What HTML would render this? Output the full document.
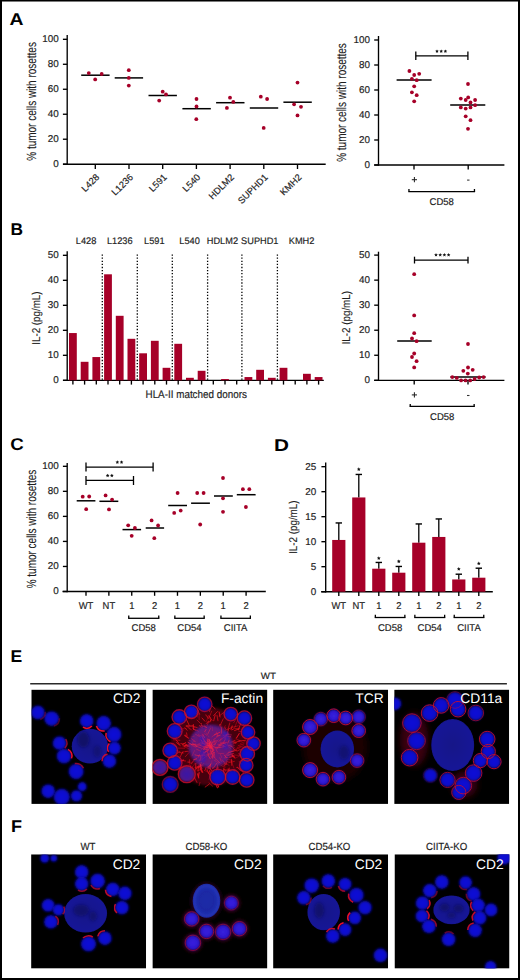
<!DOCTYPE html>
<html><head><meta charset="utf-8"><style>
html,body{margin:0;padding:0;background:#fff;}
body{width:520px;height:980px;overflow:hidden;position:relative;}
#fr{position:absolute;left:0;top:0;width:520px;height:980px;box-sizing:border-box;border:2px solid #000;border-top-width:1px;}
#fr2{position:absolute;left:2px;top:1px;width:516px;height:1px;background:#7a7a7a;}
svg{position:absolute;left:0;top:0;}
text{font-family:"Liberation Sans", sans-serif;text-rendering:geometricPrecision;}
</style></head><body>
<svg width="520" height="980" viewBox="0 0 520 980">
<defs>
<filter id="b06" x="-20%" y="-20%" width="140%" height="140%"><feGaussianBlur stdDeviation="0.6"/></filter>
<filter id="b04" x="-20%" y="-20%" width="140%" height="140%"><feGaussianBlur stdDeviation="0.4"/></filter>
<filter id="b08" x="-20%" y="-20%" width="140%" height="140%"><feGaussianBlur stdDeviation="0.8"/></filter>
<filter id="b15" x="-30%" y="-30%" width="160%" height="160%"><feGaussianBlur stdDeviation="1.5"/></filter>
<filter id="b3" x="-50%" y="-50%" width="200%" height="200%"><feGaussianBlur stdDeviation="3"/></filter>
<radialGradient id="gc" cx="50%" cy="50%" r="55%"><stop offset="0" stop-color="#0c0cd8"/><stop offset="0.6" stop-color="#0a0acc"/><stop offset="0.9" stop-color="#0808b0"/><stop offset="1" stop-color="#060690"/></radialGradient>
<radialGradient id="gc2" cx="50%" cy="50%" r="55%"><stop offset="0" stop-color="#3a22e0"/><stop offset="0.75" stop-color="#2a14cc"/><stop offset="1" stop-color="#200aa8"/></radialGradient>
<radialGradient id="gb" cx="50%" cy="50%" r="55%"><stop offset="0" stop-color="#141488"/><stop offset="0.85" stop-color="#171796"/><stop offset="1" stop-color="#0e0e6a"/></radialGradient>
<radialGradient id="gb2" cx="50%" cy="50%" r="55%"><stop offset="0" stop-color="#1e2ca8"/><stop offset="0.5" stop-color="#1a28a4"/><stop offset="0.8" stop-color="#2232b4"/><stop offset="1" stop-color="#1a2696"/></radialGradient>
<radialGradient id="gc3" cx="50%" cy="50%" r="55%"><stop offset="0" stop-color="#3a1aa8"/><stop offset="0.7" stop-color="#4a1890"/><stop offset="1" stop-color="#801040"/></radialGradient>
<radialGradient id="gfa" cx="50%" cy="50%" r="50%"><stop offset="0" stop-color="#5a34d8"/><stop offset="0.6" stop-color="#6a2ab8"/><stop offset="0.9" stop-color="#8a1a70"/><stop offset="1" stop-color="#8a1a70" stop-opacity="0"/></radialGradient>
</defs>
<clipPath id="clipE0"><rect x="31.3" y="689.6" width="115" height="114.3"/></clipPath>
<g clip-path="url(#clipE0)">
<rect x="31.3" y="689.6" width="115" height="114.3" fill="#000"/>
<g transform="translate(31.3 689.6)">
<ellipse cx="58.6" cy="56.6" rx="18.2" ry="17.4" fill="url(#gb)" filter="url(#b06)"/>
<ellipse cx="52" cy="50" rx="6" ry="8" fill="#08084a" opacity="0.55" filter="url(#b15)"/>
<ellipse cx="66" cy="62" rx="4" ry="6" fill="#08084a" opacity="0.35" filter="url(#b15)"/>
<circle cx="55.4" cy="31.3" r="6.94" fill="url(#gc)" filter="url(#b08)"/>
<circle cx="72.4" cy="33.6" r="7.45" fill="url(#gc)" filter="url(#b08)"/>
<circle cx="82.7" cy="44.9" r="7.65" fill="url(#gc)" filter="url(#b08)"/>
<circle cx="83.1" cy="58.5" r="6.53" fill="url(#gc)" filter="url(#b08)"/>
<circle cx="78.1" cy="71.5" r="6.94" fill="url(#gc)" filter="url(#b08)"/>
<circle cx="28.2" cy="53.5" r="6.94" fill="url(#gc)" filter="url(#b08)"/>
<circle cx="32.7" cy="66.5" r="7.45" fill="url(#gc)" filter="url(#b08)"/>
<circle cx="44.8" cy="81.9" r="7.65" fill="url(#gc)" filter="url(#b08)"/>
<circle cx="6.6" cy="22.9" r="6.94" fill="url(#gc)" filter="url(#b08)"/>
<circle cx="20.3" cy="29" r="7.45" fill="url(#gc)" filter="url(#b08)"/>
<circle cx="16.9" cy="101.6" r="6.94" fill="url(#gc)" filter="url(#b08)"/>
<circle cx="30.5" cy="107.3" r="8.16" fill="url(#gc)" filter="url(#b08)"/>
<circle cx="50.9" cy="97.1" r="4.59" fill="url(#gc)" filter="url(#b08)"/>
<circle cx="45.2" cy="106.2" r="5.81" fill="url(#gc)" filter="url(#b08)"/>
<path d="M60.61 36.47 A7.34 7.34 0 0 1 51.64 37.6" fill="none" stroke="#f01028" stroke-width="1.5" opacity="1" filter="url(#b04)"/>
<path d="M73.36 41.39 A7.85 7.85 0 0 1 65.08 36.42" fill="none" stroke="#f01028" stroke-width="1.5" opacity="1" filter="url(#b04)"/>
<path d="M79.16 52.13 A8.05 8.05 0 0 1 74.83 43.21" fill="none" stroke="#f01028" stroke-width="1.5" opacity="1" filter="url(#b04)"/>
<path d="M77.33 62.33 A6.93 6.93 0 0 1 77.99 53.83" fill="none" stroke="#f01028" stroke-width="1.5" opacity="1" filter="url(#b04)"/>
<path d="M70.76 71.58 A7.34 7.34 0 0 1 76.25 64.4" fill="none" stroke="#f01028" stroke-width="1.5" opacity="0.8" filter="url(#b04)"/>
<path d="M34.41 49.59 A7.34 7.34 0 0 1 33.49 58.58" fill="none" stroke="#f01028" stroke-width="1.5" opacity="0.6" filter="url(#b04)"/>
<path d="M36.75 59.78 A7.85 7.85 0 0 1 40.2 68.8" fill="none" stroke="#f01028" stroke-width="1.5" opacity="1" filter="url(#b04)"/>
<path d="M43.49 73.96 A8.05 8.05 0 0 1 52.19 78.7" fill="none" stroke="#f01028" stroke-width="1.5" opacity="0.6" filter="url(#b04)"/>
<path d="M13.91 22.25 A7.34 7.34 0 0 1 8.99 29.83" fill="none" stroke="#f01028" stroke-width="1.5" opacity="0.3" filter="url(#b04)"/>
<path d="M28.14 28.7 A7.85 7.85 0 0 1 22.49 36.53" fill="none" stroke="#f01028" stroke-width="1.5" opacity="0.3" filter="url(#b04)"/>
</g>
<text x="140.5" y="702.8" font-size="13.8" text-anchor="end" fill="#fff">CD2</text>
</g>
<clipPath id="clipE1"><rect x="152.4" y="689.6" width="115" height="114.3"/></clipPath>
<g clip-path="url(#clipE1)">
<rect x="152.4" y="689.6" width="115" height="114.3" fill="#000"/>
<g transform="translate(152.4 689.6)">
<ellipse cx="58" cy="57" rx="40" ry="39" fill="#46000a" filter="url(#b15)"/>
<g filter="url(#b04)"><line x1="49.41" y1="75.02" x2="47.51" y2="77.11" stroke="#e8101e" stroke-width="0.92" opacity="0.66" stroke-linecap="round"/><line x1="83.26" y1="68.4" x2="87.23" y2="66.39" stroke="#e8101e" stroke-width="0.64" opacity="0.54" stroke-linecap="round"/><line x1="26.52" y1="71.93" x2="25.09" y2="75.13" stroke="#e8101e" stroke-width="0.98" opacity="0.93" stroke-linecap="round"/><line x1="34.66" y1="45.87" x2="34.04" y2="43.23" stroke="#e8101e" stroke-width="1.12" opacity="0.63" stroke-linecap="round"/><line x1="68.08" y1="71.57" x2="73.31" y2="74.85" stroke="#e8101e" stroke-width="0.71" opacity="0.76" stroke-linecap="round"/><line x1="41.97" y1="38.07" x2="40.37" y2="35.79" stroke="#e8101e" stroke-width="0.64" opacity="0.59" stroke-linecap="round"/><line x1="48.18" y1="34.01" x2="44.6" y2="30.33" stroke="#e8101e" stroke-width="0.87" opacity="0.63" stroke-linecap="round"/><line x1="67.65" y1="27.41" x2="66.73" y2="22.41" stroke="#e8101e" stroke-width="0.92" opacity="0.89" stroke-linecap="round"/><line x1="53.85" y1="33.99" x2="55.88" y2="31.74" stroke="#e8101e" stroke-width="0.85" opacity="0.84" stroke-linecap="round"/><line x1="71.88" y1="80.13" x2="77.34" y2="80.82" stroke="#e8101e" stroke-width="1.06" opacity="0.76" stroke-linecap="round"/><line x1="73.31" y1="40.52" x2="78.01" y2="38.36" stroke="#e8101e" stroke-width="0.95" opacity="0.71" stroke-linecap="round"/><line x1="77.41" y1="26.63" x2="80.13" y2="21.87" stroke="#e8101e" stroke-width="0.64" opacity="0.82" stroke-linecap="round"/><line x1="34.13" y1="27.08" x2="33.87" y2="23.3" stroke="#e8101e" stroke-width="0.83" opacity="0.8" stroke-linecap="round"/><line x1="84.52" y1="61.64" x2="87.23" y2="60.31" stroke="#e8101e" stroke-width="0.64" opacity="0.85" stroke-linecap="round"/><line x1="71.5" y1="72.17" x2="76.74" y2="75.88" stroke="#e8101e" stroke-width="0.65" opacity="0.7" stroke-linecap="round"/><line x1="24.38" y1="48.03" x2="20.34" y2="43.08" stroke="#e8101e" stroke-width="0.77" opacity="0.69" stroke-linecap="round"/><line x1="35.94" y1="85.94" x2="32.76" y2="86.14" stroke="#e8101e" stroke-width="0.71" opacity="0.6" stroke-linecap="round"/><line x1="61.1" y1="83.67" x2="60.89" y2="87.35" stroke="#e8101e" stroke-width="0.6" opacity="0.69" stroke-linecap="round"/><line x1="40.06" y1="79.28" x2="34.45" y2="79.32" stroke="#e8101e" stroke-width="0.91" opacity="0.78" stroke-linecap="round"/><line x1="48.66" y1="42.75" x2="50.18" y2="36.93" stroke="#e8101e" stroke-width="1.12" opacity="0.86" stroke-linecap="round"/><line x1="37.6" y1="71.12" x2="36.63" y2="76.39" stroke="#e8101e" stroke-width="0.64" opacity="0.53" stroke-linecap="round"/><line x1="62.81" y1="76.68" x2="64.24" y2="79.02" stroke="#e8101e" stroke-width="0.6" opacity="0.57" stroke-linecap="round"/><line x1="75.75" y1="73.17" x2="82.03" y2="71.78" stroke="#e8101e" stroke-width="0.97" opacity="0.57" stroke-linecap="round"/><line x1="57.29" y1="81.15" x2="57.98" y2="84.13" stroke="#e8101e" stroke-width="1.11" opacity="0.95" stroke-linecap="round"/><line x1="30.86" y1="61.86" x2="29.16" y2="64.29" stroke="#e8101e" stroke-width="0.81" opacity="0.62" stroke-linecap="round"/><line x1="69.45" y1="41.21" x2="67.04" y2="34.87" stroke="#e8101e" stroke-width="0.92" opacity="0.57" stroke-linecap="round"/><line x1="43.36" y1="53.11" x2="36.81" y2="50.93" stroke="#e8101e" stroke-width="1.12" opacity="0.81" stroke-linecap="round"/><line x1="54.67" y1="80.43" x2="57.69" y2="85.58" stroke="#e8101e" stroke-width="0.92" opacity="0.85" stroke-linecap="round"/><line x1="50.03" y1="75.41" x2="43.98" y2="78.79" stroke="#e8101e" stroke-width="1.11" opacity="0.86" stroke-linecap="round"/><line x1="72.42" y1="28.24" x2="72.12" y2="23.42" stroke="#e8101e" stroke-width="0.81" opacity="0.51" stroke-linecap="round"/><line x1="79.06" y1="61.93" x2="84.49" y2="60.5" stroke="#e8101e" stroke-width="1.17" opacity="0.7" stroke-linecap="round"/><line x1="92.78" y1="40.83" x2="96.55" y2="42.53" stroke="#e8101e" stroke-width="0.73" opacity="0.6" stroke-linecap="round"/><line x1="65.03" y1="74.99" x2="65.76" y2="81.5" stroke="#e8101e" stroke-width="1.1" opacity="0.72" stroke-linecap="round"/><line x1="40.3" y1="28.4" x2="34.95" y2="27.24" stroke="#e8101e" stroke-width="1.15" opacity="0.85" stroke-linecap="round"/><line x1="59.68" y1="31.02" x2="56.37" y2="25.95" stroke="#e8101e" stroke-width="0.8" opacity="0.86" stroke-linecap="round"/><line x1="81.12" y1="53.45" x2="87.45" y2="51.09" stroke="#e8101e" stroke-width="1.03" opacity="0.58" stroke-linecap="round"/><line x1="72.75" y1="69.21" x2="73.02" y2="75.33" stroke="#e8101e" stroke-width="0.69" opacity="0.87" stroke-linecap="round"/><line x1="87.92" y1="53.95" x2="92.51" y2="52.04" stroke="#e8101e" stroke-width="0.68" opacity="0.51" stroke-linecap="round"/><line x1="86.43" y1="51.58" x2="93.07" y2="50.68" stroke="#e8101e" stroke-width="0.86" opacity="0.89" stroke-linecap="round"/><line x1="68.37" y1="38.81" x2="68.49" y2="34.99" stroke="#e8101e" stroke-width="0.74" opacity="0.76" stroke-linecap="round"/><line x1="54.52" y1="81.46" x2="58.28" y2="86.88" stroke="#e8101e" stroke-width="0.81" opacity="0.71" stroke-linecap="round"/><line x1="28.26" y1="39.28" x2="22.11" y2="36.82" stroke="#e8101e" stroke-width="0.9" opacity="0.74" stroke-linecap="round"/><line x1="41.45" y1="54.36" x2="38.13" y2="54.22" stroke="#e8101e" stroke-width="0.6" opacity="0.86" stroke-linecap="round"/><line x1="71.11" y1="79.61" x2="71.53" y2="84.59" stroke="#e8101e" stroke-width="0.8" opacity="0.73" stroke-linecap="round"/><line x1="27.21" y1="44.08" x2="22.51" y2="45.85" stroke="#e8101e" stroke-width="0.75" opacity="0.62" stroke-linecap="round"/><line x1="61.33" y1="30.98" x2="62.8" y2="25.25" stroke="#e8101e" stroke-width="1.15" opacity="0.7" stroke-linecap="round"/><line x1="37.95" y1="39.95" x2="33.76" y2="36.21" stroke="#e8101e" stroke-width="0.87" opacity="0.74" stroke-linecap="round"/><line x1="22.8" y1="63.03" x2="16.51" y2="61.62" stroke="#e8101e" stroke-width="1.17" opacity="0.62" stroke-linecap="round"/><line x1="22.79" y1="44.14" x2="21.07" y2="41.55" stroke="#e8101e" stroke-width="0.67" opacity="0.7" stroke-linecap="round"/><line x1="76.29" y1="68.1" x2="81.54" y2="66.41" stroke="#e8101e" stroke-width="1.07" opacity="0.9" stroke-linecap="round"/><line x1="76.59" y1="83.36" x2="77.55" y2="86.35" stroke="#e8101e" stroke-width="1.13" opacity="0.94" stroke-linecap="round"/><line x1="64.54" y1="93.06" x2="66.26" y2="97.43" stroke="#e8101e" stroke-width="1.19" opacity="0.87" stroke-linecap="round"/><line x1="71.5" y1="78.61" x2="73.53" y2="82.09" stroke="#e8101e" stroke-width="0.72" opacity="0.64" stroke-linecap="round"/><line x1="54.97" y1="41.09" x2="54.62" y2="36.62" stroke="#e8101e" stroke-width="0.61" opacity="0.65" stroke-linecap="round"/><line x1="40.63" y1="36.42" x2="33.7" y2="36.46" stroke="#e8101e" stroke-width="1.07" opacity="0.94" stroke-linecap="round"/><line x1="73.9" y1="72.1" x2="79.82" y2="71.08" stroke="#e8101e" stroke-width="0.76" opacity="0.56" stroke-linecap="round"/><line x1="26.22" y1="75.01" x2="22.57" y2="74.7" stroke="#e8101e" stroke-width="0.69" opacity="0.91" stroke-linecap="round"/><line x1="29.14" y1="42.26" x2="26.5" y2="43.06" stroke="#e8101e" stroke-width="1.01" opacity="0.69" stroke-linecap="round"/><line x1="90.37" y1="72.02" x2="95.05" y2="75.94" stroke="#e8101e" stroke-width="0.65" opacity="0.89" stroke-linecap="round"/><line x1="89.89" y1="71.37" x2="93.69" y2="72.69" stroke="#e8101e" stroke-width="0.93" opacity="0.92" stroke-linecap="round"/><line x1="55.95" y1="75.95" x2="55.38" y2="79.48" stroke="#e8101e" stroke-width="0.67" opacity="0.57" stroke-linecap="round"/><line x1="77.39" y1="64.03" x2="81.26" y2="63.94" stroke="#e8101e" stroke-width="1.06" opacity="0.63" stroke-linecap="round"/><line x1="37.33" y1="56.64" x2="34.84" y2="57.34" stroke="#e8101e" stroke-width="0.75" opacity="0.51" stroke-linecap="round"/><line x1="56.23" y1="28.87" x2="53.37" y2="25.22" stroke="#e8101e" stroke-width="1.16" opacity="0.55" stroke-linecap="round"/><line x1="68.26" y1="34.88" x2="70.83" y2="29.18" stroke="#e8101e" stroke-width="0.84" opacity="0.73" stroke-linecap="round"/><line x1="44.85" y1="22.82" x2="40.95" y2="17.94" stroke="#e8101e" stroke-width="1.02" opacity="0.79" stroke-linecap="round"/><line x1="37.08" y1="69.94" x2="36.56" y2="72.98" stroke="#e8101e" stroke-width="0.64" opacity="0.83" stroke-linecap="round"/><line x1="55.19" y1="76.2" x2="59.3" y2="80.96" stroke="#e8101e" stroke-width="1.12" opacity="0.8" stroke-linecap="round"/><line x1="52.96" y1="77.61" x2="53.74" y2="82.11" stroke="#e8101e" stroke-width="0.69" opacity="0.7" stroke-linecap="round"/><line x1="56.74" y1="94.55" x2="52.75" y2="97.5" stroke="#e8101e" stroke-width="0.75" opacity="0.93" stroke-linecap="round"/><line x1="47.5" y1="79.23" x2="49.61" y2="82.88" stroke="#e8101e" stroke-width="0.88" opacity="0.73" stroke-linecap="round"/><line x1="65.1" y1="84.06" x2="68.54" y2="85.4" stroke="#e8101e" stroke-width="0.65" opacity="0.68" stroke-linecap="round"/><line x1="74.1" y1="61.95" x2="77.63" y2="61.63" stroke="#e8101e" stroke-width="0.95" opacity="0.74" stroke-linecap="round"/><line x1="56.88" y1="27.52" x2="59.34" y2="21.55" stroke="#e8101e" stroke-width="0.83" opacity="0.65" stroke-linecap="round"/><line x1="76.62" y1="54.14" x2="81.76" y2="55.78" stroke="#e8101e" stroke-width="0.63" opacity="0.88" stroke-linecap="round"/><line x1="79.77" y1="37.81" x2="85.72" y2="36.24" stroke="#e8101e" stroke-width="0.68" opacity="0.74" stroke-linecap="round"/><line x1="24.25" y1="57.69" x2="19.04" y2="54.31" stroke="#e8101e" stroke-width="0.95" opacity="0.9" stroke-linecap="round"/><line x1="45.43" y1="27.47" x2="43.35" y2="25.85" stroke="#e8101e" stroke-width="0.68" opacity="0.66" stroke-linecap="round"/><line x1="84.84" y1="77.44" x2="88.69" y2="81.13" stroke="#e8101e" stroke-width="0.98" opacity="0.81" stroke-linecap="round"/><line x1="42.59" y1="59.54" x2="37.35" y2="56.89" stroke="#e8101e" stroke-width="0.9" opacity="0.74" stroke-linecap="round"/><line x1="47.76" y1="42.42" x2="47.24" y2="38.82" stroke="#e8101e" stroke-width="0.64" opacity="0.62" stroke-linecap="round"/><line x1="54.06" y1="37.96" x2="56.11" y2="31.39" stroke="#e8101e" stroke-width="0.9" opacity="0.67" stroke-linecap="round"/><line x1="27.73" y1="62.25" x2="22.77" y2="60.44" stroke="#e8101e" stroke-width="0.99" opacity="0.53" stroke-linecap="round"/><line x1="71.77" y1="73.96" x2="72.57" y2="77.75" stroke="#e8101e" stroke-width="0.94" opacity="0.51" stroke-linecap="round"/><line x1="78.03" y1="64.11" x2="82.36" y2="67.68" stroke="#e8101e" stroke-width="1.01" opacity="0.63" stroke-linecap="round"/><line x1="31.44" y1="54.14" x2="28.41" y2="54.01" stroke="#e8101e" stroke-width="1.14" opacity="0.59" stroke-linecap="round"/><line x1="95.01" y1="53.64" x2="97.46" y2="49.78" stroke="#e8101e" stroke-width="1.09" opacity="0.94" stroke-linecap="round"/><line x1="37.54" y1="61.95" x2="33.03" y2="66.98" stroke="#e8101e" stroke-width="0.73" opacity="0.76" stroke-linecap="round"/><line x1="76.78" y1="78.42" x2="76.36" y2="81.49" stroke="#e8101e" stroke-width="1.09" opacity="0.73" stroke-linecap="round"/><line x1="82.16" y1="38.2" x2="84.57" y2="32.12" stroke="#e8101e" stroke-width="0.89" opacity="0.51" stroke-linecap="round"/><line x1="84.88" y1="57.78" x2="88.74" y2="57.52" stroke="#e8101e" stroke-width="0.68" opacity="0.65" stroke-linecap="round"/><line x1="41.92" y1="87.78" x2="44.65" y2="92.99" stroke="#e8101e" stroke-width="1.1" opacity="0.55" stroke-linecap="round"/><line x1="86.31" y1="41.48" x2="89.99" y2="42.46" stroke="#e8101e" stroke-width="0.82" opacity="0.68" stroke-linecap="round"/><line x1="86.82" y1="57.33" x2="91.1" y2="56.2" stroke="#e8101e" stroke-width="0.77" opacity="0.52" stroke-linecap="round"/><line x1="83.94" y1="77.85" x2="90.43" y2="79.53" stroke="#e8101e" stroke-width="0.75" opacity="0.62" stroke-linecap="round"/><line x1="39.23" y1="54.93" x2="32.52" y2="56.01" stroke="#e8101e" stroke-width="1.13" opacity="0.87" stroke-linecap="round"/><line x1="31.97" y1="31.57" x2="32.19" y2="26.6" stroke="#e8101e" stroke-width="1.03" opacity="0.52" stroke-linecap="round"/><line x1="54" y1="31.79" x2="55.82" y2="26.71" stroke="#e8101e" stroke-width="0.77" opacity="0.52" stroke-linecap="round"/><line x1="74.87" y1="48.75" x2="78.4" y2="46.78" stroke="#e8101e" stroke-width="0.78" opacity="0.83" stroke-linecap="round"/><line x1="79.55" y1="53.23" x2="83.37" y2="53.73" stroke="#e8101e" stroke-width="0.93" opacity="0.68" stroke-linecap="round"/><line x1="65.86" y1="74.06" x2="71.54" y2="77.36" stroke="#e8101e" stroke-width="0.9" opacity="0.6" stroke-linecap="round"/><line x1="89.98" y1="35.8" x2="92.41" y2="33.84" stroke="#e8101e" stroke-width="0.72" opacity="0.54" stroke-linecap="round"/><line x1="47.27" y1="71.94" x2="46.88" y2="75.58" stroke="#e8101e" stroke-width="0.94" opacity="0.9" stroke-linecap="round"/><line x1="58.32" y1="32.32" x2="57.56" y2="27.52" stroke="#e8101e" stroke-width="0.83" opacity="0.65" stroke-linecap="round"/><line x1="79.79" y1="64.72" x2="80.81" y2="67.61" stroke="#e8101e" stroke-width="0.9" opacity="0.78" stroke-linecap="round"/><line x1="72.29" y1="41.46" x2="73.34" y2="38" stroke="#e8101e" stroke-width="0.84" opacity="0.7" stroke-linecap="round"/><line x1="91.94" y1="46.05" x2="94.35" y2="47.02" stroke="#e8101e" stroke-width="0.62" opacity="0.82" stroke-linecap="round"/><line x1="79.43" y1="40.28" x2="81.62" y2="39.09" stroke="#e8101e" stroke-width="0.83" opacity="0.92" stroke-linecap="round"/><line x1="73.08" y1="24.7" x2="76.59" y2="23.81" stroke="#e8101e" stroke-width="0.67" opacity="0.57" stroke-linecap="round"/><line x1="27.03" y1="54.69" x2="23.61" y2="50.06" stroke="#e8101e" stroke-width="0.99" opacity="0.84" stroke-linecap="round"/><line x1="30.32" y1="62.3" x2="27.57" y2="67.66" stroke="#e8101e" stroke-width="0.74" opacity="0.91" stroke-linecap="round"/><line x1="44.7" y1="37.89" x2="41.17" y2="37.01" stroke="#e8101e" stroke-width="0.98" opacity="0.81" stroke-linecap="round"/><line x1="71.02" y1="67.92" x2="74.77" y2="71.4" stroke="#e8101e" stroke-width="0.83" opacity="0.6" stroke-linecap="round"/><line x1="45.52" y1="46.81" x2="41.12" y2="45.56" stroke="#e8101e" stroke-width="1.18" opacity="0.79" stroke-linecap="round"/><line x1="78.56" y1="39.71" x2="79.84" y2="36.33" stroke="#e8101e" stroke-width="1.18" opacity="0.82" stroke-linecap="round"/><line x1="52.45" y1="71.7" x2="50.51" y2="76.88" stroke="#e8101e" stroke-width="0.85" opacity="0.62" stroke-linecap="round"/><line x1="40.09" y1="24.41" x2="37.84" y2="23" stroke="#e8101e" stroke-width="0.8" opacity="0.69" stroke-linecap="round"/><line x1="48.49" y1="39.51" x2="49.13" y2="33.72" stroke="#e8101e" stroke-width="0.9" opacity="0.59" stroke-linecap="round"/><line x1="80.77" y1="51.65" x2="84.05" y2="52.99" stroke="#e8101e" stroke-width="0.73" opacity="0.84" stroke-linecap="round"/><line x1="47.6" y1="92.79" x2="46.7" y2="96.01" stroke="#e8101e" stroke-width="0.73" opacity="0.69" stroke-linecap="round"/><line x1="40.24" y1="24.34" x2="36.31" y2="22.67" stroke="#e8101e" stroke-width="0.73" opacity="0.94" stroke-linecap="round"/><line x1="67.9" y1="71.68" x2="72.15" y2="72.11" stroke="#e8101e" stroke-width="1.14" opacity="0.9" stroke-linecap="round"/><line x1="52.44" y1="18.85" x2="54.91" y2="15.73" stroke="#e8101e" stroke-width="0.71" opacity="0.92" stroke-linecap="round"/><line x1="57" y1="40.33" x2="58.13" y2="36.28" stroke="#e8101e" stroke-width="0.82" opacity="0.65" stroke-linecap="round"/><line x1="65.17" y1="71.53" x2="68.38" y2="74.05" stroke="#e8101e" stroke-width="1.17" opacity="0.56" stroke-linecap="round"/><line x1="77.25" y1="53.42" x2="82.74" y2="50.54" stroke="#e8101e" stroke-width="1.09" opacity="0.69" stroke-linecap="round"/><line x1="81.76" y1="65.39" x2="88.37" y2="65.92" stroke="#e8101e" stroke-width="0.72" opacity="0.66" stroke-linecap="round"/><line x1="70.77" y1="47.97" x2="75.02" y2="43.52" stroke="#e8101e" stroke-width="1.06" opacity="0.52" stroke-linecap="round"/><line x1="75.89" y1="59.7" x2="77.94" y2="62.72" stroke="#e8101e" stroke-width="1.05" opacity="0.9" stroke-linecap="round"/><line x1="47.86" y1="76.84" x2="42.67" y2="77.82" stroke="#e8101e" stroke-width="0.76" opacity="0.82" stroke-linecap="round"/><line x1="46.89" y1="76.37" x2="49.59" y2="81.62" stroke="#e8101e" stroke-width="1.15" opacity="0.79" stroke-linecap="round"/><line x1="73.81" y1="52.25" x2="76.92" y2="48.81" stroke="#e8101e" stroke-width="1.17" opacity="0.93" stroke-linecap="round"/><line x1="41.78" y1="70.63" x2="38.63" y2="74.14" stroke="#e8101e" stroke-width="1.16" opacity="0.58" stroke-linecap="round"/><line x1="66.75" y1="26.44" x2="71.47" y2="22.77" stroke="#e8101e" stroke-width="0.96" opacity="0.65" stroke-linecap="round"/><line x1="48.17" y1="79.69" x2="45.86" y2="81.36" stroke="#e8101e" stroke-width="0.72" opacity="0.84" stroke-linecap="round"/><line x1="56.45" y1="74.79" x2="60.21" y2="78.06" stroke="#e8101e" stroke-width="0.8" opacity="0.94" stroke-linecap="round"/><line x1="86.97" y1="31.76" x2="88.13" y2="29.12" stroke="#e8101e" stroke-width="0.66" opacity="0.72" stroke-linecap="round"/><line x1="52.5" y1="31.68" x2="49.58" y2="28.42" stroke="#e8101e" stroke-width="0.97" opacity="0.8" stroke-linecap="round"/><line x1="57.11" y1="21.83" x2="57.96" y2="18.91" stroke="#e8101e" stroke-width="1.1" opacity="0.63" stroke-linecap="round"/><line x1="35.2" y1="47.58" x2="32.95" y2="45.03" stroke="#e8101e" stroke-width="0.75" opacity="0.61" stroke-linecap="round"/><line x1="78.48" y1="85.98" x2="80.27" y2="89.52" stroke="#e8101e" stroke-width="0.84" opacity="0.95" stroke-linecap="round"/><line x1="37.18" y1="57.48" x2="32.69" y2="54.4" stroke="#e8101e" stroke-width="1.19" opacity="0.55" stroke-linecap="round"/><line x1="25.4" y1="64.14" x2="19.46" y2="61.24" stroke="#e8101e" stroke-width="0.62" opacity="0.63" stroke-linecap="round"/><line x1="74.31" y1="69.54" x2="74.16" y2="74.66" stroke="#e8101e" stroke-width="1.16" opacity="0.67" stroke-linecap="round"/><line x1="75.71" y1="39.09" x2="77.46" y2="33.35" stroke="#e8101e" stroke-width="1.17" opacity="0.55" stroke-linecap="round"/><line x1="34.03" y1="39.23" x2="29.89" y2="38.83" stroke="#e8101e" stroke-width="0.68" opacity="0.59" stroke-linecap="round"/><line x1="57.55" y1="86.54" x2="56.53" y2="89.8" stroke="#e8101e" stroke-width="0.61" opacity="0.65" stroke-linecap="round"/><line x1="49.6" y1="38.33" x2="47.18" y2="35.92" stroke="#e8101e" stroke-width="1.08" opacity="0.75" stroke-linecap="round"/><line x1="74.22" y1="64.32" x2="79.09" y2="65.35" stroke="#e8101e" stroke-width="0.98" opacity="0.54" stroke-linecap="round"/><line x1="73.96" y1="84.08" x2="76.41" y2="86.96" stroke="#e8101e" stroke-width="0.78" opacity="0.93" stroke-linecap="round"/><line x1="46.66" y1="82.99" x2="46.07" y2="87.32" stroke="#e8101e" stroke-width="1.12" opacity="0.95" stroke-linecap="round"/><line x1="44.9" y1="73.13" x2="41.81" y2="74.6" stroke="#e8101e" stroke-width="0.6" opacity="0.91" stroke-linecap="round"/><line x1="28.59" y1="71.66" x2="23.43" y2="75.57" stroke="#e8101e" stroke-width="0.88" opacity="0.57" stroke-linecap="round"/><line x1="84.9" y1="58.69" x2="91.1" y2="60.92" stroke="#e8101e" stroke-width="0.65" opacity="0.78" stroke-linecap="round"/><line x1="38.2" y1="76.23" x2="37.74" y2="79.98" stroke="#e8101e" stroke-width="0.91" opacity="0.92" stroke-linecap="round"/><line x1="79.18" y1="71.95" x2="81.46" y2="78.41" stroke="#e8101e" stroke-width="0.72" opacity="0.56" stroke-linecap="round"/><line x1="93.7" y1="43.7" x2="96.23" y2="42.67" stroke="#e8101e" stroke-width="1.16" opacity="0.67" stroke-linecap="round"/><line x1="82.48" y1="39.11" x2="85.7" y2="39.06" stroke="#e8101e" stroke-width="1.07" opacity="0.6" stroke-linecap="round"/><line x1="29.44" y1="77.67" x2="26.12" y2="77.69" stroke="#e8101e" stroke-width="0.73" opacity="0.68" stroke-linecap="round"/><line x1="33.25" y1="53.07" x2="30.2" y2="55" stroke="#e8101e" stroke-width="1.03" opacity="0.9" stroke-linecap="round"/><line x1="86.36" y1="63.87" x2="88.37" y2="65.64" stroke="#e8101e" stroke-width="1.1" opacity="0.55" stroke-linecap="round"/><line x1="34.87" y1="40.84" x2="32.32" y2="37.92" stroke="#e8101e" stroke-width="0.85" opacity="0.76" stroke-linecap="round"/><line x1="30.87" y1="70.43" x2="27.09" y2="72.81" stroke="#e8101e" stroke-width="0.61" opacity="0.78" stroke-linecap="round"/><line x1="37.63" y1="59.72" x2="32.12" y2="57.33" stroke="#e8101e" stroke-width="0.87" opacity="0.58" stroke-linecap="round"/><line x1="39.42" y1="58.76" x2="36.45" y2="62.06" stroke="#e8101e" stroke-width="0.66" opacity="0.7" stroke-linecap="round"/><line x1="40.51" y1="56.23" x2="37.77" y2="55.36" stroke="#e8101e" stroke-width="1.04" opacity="0.85" stroke-linecap="round"/><line x1="40.95" y1="55.78" x2="36.76" y2="55.45" stroke="#e8101e" stroke-width="1.17" opacity="0.56" stroke-linecap="round"/><line x1="80.14" y1="27.21" x2="85.61" y2="24.36" stroke="#e8101e" stroke-width="0.72" opacity="0.94" stroke-linecap="round"/><line x1="20.25" y1="60.04" x2="17.76" y2="57.95" stroke="#e8101e" stroke-width="1.07" opacity="0.92" stroke-linecap="round"/><line x1="80.54" y1="66.06" x2="82.6" y2="68.52" stroke="#e8101e" stroke-width="1.14" opacity="0.62" stroke-linecap="round"/><line x1="65.14" y1="40.65" x2="67.82" y2="34.58" stroke="#e8101e" stroke-width="0.72" opacity="0.62" stroke-linecap="round"/><line x1="34.16" y1="54.87" x2="31.84" y2="57.24" stroke="#e8101e" stroke-width="0.7" opacity="0.92" stroke-linecap="round"/><line x1="44.48" y1="24.45" x2="39.28" y2="21.39" stroke="#e8101e" stroke-width="0.67" opacity="0.74" stroke-linecap="round"/><line x1="41.13" y1="39.92" x2="40.92" y2="34.92" stroke="#e8101e" stroke-width="0.95" opacity="0.9" stroke-linecap="round"/><line x1="88.2" y1="79.68" x2="90.89" y2="83.01" stroke="#e8101e" stroke-width="1.08" opacity="0.62" stroke-linecap="round"/><line x1="85.82" y1="56.08" x2="91.47" y2="54.26" stroke="#e8101e" stroke-width="0.87" opacity="0.58" stroke-linecap="round"/><line x1="56.3" y1="39.52" x2="58.16" y2="36.39" stroke="#e8101e" stroke-width="0.98" opacity="0.94" stroke-linecap="round"/><line x1="31.26" y1="40.5" x2="28.8" y2="40" stroke="#e8101e" stroke-width="0.62" opacity="0.57" stroke-linecap="round"/><line x1="39.87" y1="40.9" x2="35.1" y2="36.44" stroke="#e8101e" stroke-width="0.68" opacity="0.6" stroke-linecap="round"/><line x1="49.47" y1="41.97" x2="45.38" y2="41.69" stroke="#e8101e" stroke-width="0.66" opacity="0.66" stroke-linecap="round"/><line x1="62.96" y1="85.73" x2="62.97" y2="89.15" stroke="#e8101e" stroke-width="0.97" opacity="0.71" stroke-linecap="round"/><line x1="82.11" y1="85.32" x2="85.05" y2="86.51" stroke="#e8101e" stroke-width="0.66" opacity="0.79" stroke-linecap="round"/><line x1="81.29" y1="33.07" x2="83.33" y2="29.99" stroke="#e8101e" stroke-width="0.61" opacity="0.79" stroke-linecap="round"/><line x1="36.02" y1="48.55" x2="32.45" y2="45.82" stroke="#e8101e" stroke-width="1.16" opacity="0.83" stroke-linecap="round"/><line x1="56.55" y1="93.23" x2="60.16" y2="96.53" stroke="#e8101e" stroke-width="0.84" opacity="0.61" stroke-linecap="round"/><line x1="88.63" y1="70.82" x2="92.97" y2="68.38" stroke="#e8101e" stroke-width="1.16" opacity="0.56" stroke-linecap="round"/><line x1="66.98" y1="84.24" x2="68.59" y2="89.38" stroke="#e8101e" stroke-width="1.09" opacity="0.58" stroke-linecap="round"/><line x1="47.65" y1="76.97" x2="50.41" y2="82.85" stroke="#e8101e" stroke-width="1.07" opacity="0.82" stroke-linecap="round"/><line x1="92.51" y1="57.4" x2="96.58" y2="59.52" stroke="#e8101e" stroke-width="1.05" opacity="0.7" stroke-linecap="round"/><line x1="60.27" y1="76.01" x2="61.85" y2="78.16" stroke="#e8101e" stroke-width="0.8" opacity="0.84" stroke-linecap="round"/><line x1="45.56" y1="24.41" x2="45.69" y2="20.71" stroke="#e8101e" stroke-width="0.93" opacity="0.7" stroke-linecap="round"/><line x1="65.55" y1="31" x2="64.58" y2="25.7" stroke="#e8101e" stroke-width="1.18" opacity="0.6" stroke-linecap="round"/><line x1="70.7" y1="46.1" x2="72.04" y2="42.8" stroke="#e8101e" stroke-width="1.05" opacity="0.93" stroke-linecap="round"/><line x1="56.17" y1="33.39" x2="58.61" y2="30.24" stroke="#e8101e" stroke-width="0.74" opacity="0.91" stroke-linecap="round"/><line x1="36.86" y1="35.77" x2="33.84" y2="29.56" stroke="#e8101e" stroke-width="0.88" opacity="0.88" stroke-linecap="round"/><line x1="47.32" y1="24.72" x2="44.85" y2="19.51" stroke="#e8101e" stroke-width="0.94" opacity="0.64" stroke-linecap="round"/><line x1="62.73" y1="86.01" x2="68.28" y2="89.58" stroke="#e8101e" stroke-width="0.69" opacity="0.51" stroke-linecap="round"/><line x1="86.67" y1="80.28" x2="89.57" y2="81.48" stroke="#e8101e" stroke-width="0.62" opacity="0.52" stroke-linecap="round"/><line x1="46.75" y1="30.02" x2="46.71" y2="24.2" stroke="#e8101e" stroke-width="0.64" opacity="0.77" stroke-linecap="round"/><line x1="37.6" y1="83.32" x2="31.35" y2="85.14" stroke="#e8101e" stroke-width="0.64" opacity="0.89" stroke-linecap="round"/><line x1="90.75" y1="38.76" x2="91.85" y2="35.52" stroke="#e8101e" stroke-width="0.67" opacity="0.52" stroke-linecap="round"/><line x1="76.32" y1="29.72" x2="81.01" y2="25.65" stroke="#e8101e" stroke-width="0.98" opacity="0.63" stroke-linecap="round"/><line x1="73.52" y1="67.32" x2="75.1" y2="70.35" stroke="#e8101e" stroke-width="0.79" opacity="0.69" stroke-linecap="round"/><line x1="78.68" y1="60.83" x2="84.21" y2="59.36" stroke="#e8101e" stroke-width="0.82" opacity="0.64" stroke-linecap="round"/><line x1="83.92" y1="49.43" x2="88.77" y2="51.52" stroke="#e8101e" stroke-width="0.62" opacity="0.69" stroke-linecap="round"/><line x1="27.96" y1="68.84" x2="23.53" y2="72.38" stroke="#e8101e" stroke-width="0.92" opacity="0.6" stroke-linecap="round"/><line x1="69.4" y1="42.24" x2="72.53" y2="41.3" stroke="#e8101e" stroke-width="0.6" opacity="0.59" stroke-linecap="round"/><line x1="62.74" y1="19.22" x2="59.31" y2="15.99" stroke="#e8101e" stroke-width="0.89" opacity="0.86" stroke-linecap="round"/><line x1="67.57" y1="81.06" x2="71.53" y2="85.89" stroke="#e8101e" stroke-width="0.76" opacity="0.92" stroke-linecap="round"/><line x1="54.5" y1="77.22" x2="51.94" y2="81.21" stroke="#e8101e" stroke-width="0.67" opacity="0.79" stroke-linecap="round"/><line x1="86.9" y1="71.9" x2="90.83" y2="76.49" stroke="#e8101e" stroke-width="0.98" opacity="0.66" stroke-linecap="round"/><line x1="37.73" y1="72.63" x2="34.85" y2="72.39" stroke="#e8101e" stroke-width="1.13" opacity="0.51" stroke-linecap="round"/><line x1="65.5" y1="77.75" x2="63.45" y2="82.04" stroke="#e8101e" stroke-width="0.83" opacity="0.9" stroke-linecap="round"/><line x1="60.76" y1="82.05" x2="61.04" y2="87.93" stroke="#e8101e" stroke-width="1.05" opacity="0.79" stroke-linecap="round"/><line x1="43.39" y1="74.37" x2="43.4" y2="80.66" stroke="#e8101e" stroke-width="1" opacity="0.83" stroke-linecap="round"/><line x1="71.36" y1="78.64" x2="71.42" y2="83.75" stroke="#e8101e" stroke-width="0.68" opacity="0.71" stroke-linecap="round"/><line x1="74.88" y1="43.49" x2="76" y2="39.8" stroke="#e8101e" stroke-width="1.02" opacity="0.88" stroke-linecap="round"/><line x1="68.37" y1="73.71" x2="71.82" y2="75.68" stroke="#e8101e" stroke-width="0.91" opacity="0.57" stroke-linecap="round"/><line x1="50.37" y1="75.91" x2="44.74" y2="77.19" stroke="#e8101e" stroke-width="0.66" opacity="0.93" stroke-linecap="round"/><line x1="79.05" y1="69.74" x2="79.43" y2="75.8" stroke="#e8101e" stroke-width="1.04" opacity="0.7" stroke-linecap="round"/><line x1="67.14" y1="86.36" x2="70.11" y2="88.08" stroke="#e8101e" stroke-width="0.83" opacity="0.52" stroke-linecap="round"/><line x1="31.77" y1="77.31" x2="27.21" y2="78.66" stroke="#e8101e" stroke-width="0.98" opacity="0.71" stroke-linecap="round"/><line x1="75.47" y1="79.41" x2="79.86" y2="83.25" stroke="#e8101e" stroke-width="1.14" opacity="0.69" stroke-linecap="round"/><line x1="28.85" y1="42.1" x2="25.5" y2="40.98" stroke="#e8101e" stroke-width="1.03" opacity="0.9" stroke-linecap="round"/><line x1="61.06" y1="25.94" x2="64.99" y2="22.01" stroke="#e8101e" stroke-width="0.98" opacity="0.7" stroke-linecap="round"/><line x1="45.02" y1="84.28" x2="46.43" y2="88.44" stroke="#e8101e" stroke-width="1.07" opacity="0.82" stroke-linecap="round"/><line x1="43.64" y1="41.33" x2="40.1" y2="38.48" stroke="#e8101e" stroke-width="0.97" opacity="0.68" stroke-linecap="round"/><line x1="42.94" y1="24.08" x2="38.24" y2="21.32" stroke="#e8101e" stroke-width="1.07" opacity="0.67" stroke-linecap="round"/><line x1="20.19" y1="57.59" x2="17.09" y2="61.45" stroke="#e8101e" stroke-width="0.7" opacity="0.85" stroke-linecap="round"/><line x1="84.22" y1="48.53" x2="86.57" y2="44.01" stroke="#e8101e" stroke-width="0.92" opacity="0.82" stroke-linecap="round"/><line x1="27.93" y1="56.05" x2="24.13" y2="53.04" stroke="#e8101e" stroke-width="0.85" opacity="0.93" stroke-linecap="round"/><line x1="64.93" y1="86.34" x2="67.48" y2="91.7" stroke="#e8101e" stroke-width="0.67" opacity="0.94" stroke-linecap="round"/><line x1="46.7" y1="70.09" x2="45.61" y2="74.25" stroke="#e8101e" stroke-width="0.61" opacity="0.69" stroke-linecap="round"/><line x1="30.04" y1="71.69" x2="27.38" y2="74.25" stroke="#e8101e" stroke-width="0.73" opacity="0.83" stroke-linecap="round"/><line x1="83.58" y1="48.45" x2="87.45" y2="43.73" stroke="#e8101e" stroke-width="0.84" opacity="0.6" stroke-linecap="round"/><line x1="81.6" y1="79.85" x2="82.66" y2="85.09" stroke="#e8101e" stroke-width="0.88" opacity="0.75" stroke-linecap="round"/><line x1="62.81" y1="93.3" x2="64.98" y2="98.22" stroke="#e8101e" stroke-width="1.09" opacity="0.87" stroke-linecap="round"/><line x1="35.54" y1="61.7" x2="32.49" y2="62.05" stroke="#e8101e" stroke-width="1.1" opacity="0.66" stroke-linecap="round"/><line x1="71.39" y1="39.41" x2="72.84" y2="36.07" stroke="#e8101e" stroke-width="0.86" opacity="0.58" stroke-linecap="round"/><line x1="90.2" y1="58.24" x2="93.55" y2="56.91" stroke="#e8101e" stroke-width="0.78" opacity="0.72" stroke-linecap="round"/><line x1="31.2" y1="70.57" x2="27.12" y2="71.24" stroke="#e8101e" stroke-width="1.16" opacity="0.88" stroke-linecap="round"/><line x1="90.51" y1="67.04" x2="93.31" y2="72.38" stroke="#e8101e" stroke-width="0.68" opacity="0.87" stroke-linecap="round"/><line x1="49.11" y1="43.25" x2="42.33" y2="43.54" stroke="#e8101e" stroke-width="0.99" opacity="0.61" stroke-linecap="round"/><line x1="72.02" y1="69.12" x2="77.94" y2="70.06" stroke="#e8101e" stroke-width="0.81" opacity="0.57" stroke-linecap="round"/><line x1="86" y1="39.96" x2="88.36" y2="33.89" stroke="#e8101e" stroke-width="0.97" opacity="0.85" stroke-linecap="round"/><line x1="39.52" y1="27.31" x2="39.55" y2="21.03" stroke="#e8101e" stroke-width="0.72" opacity="0.81" stroke-linecap="round"/><line x1="27.54" y1="50.67" x2="21.09" y2="50.13" stroke="#e8101e" stroke-width="0.93" opacity="0.62" stroke-linecap="round"/><line x1="59.94" y1="76.59" x2="60.25" y2="79.33" stroke="#e8101e" stroke-width="0.88" opacity="0.56" stroke-linecap="round"/><line x1="32.27" y1="58.62" x2="25.89" y2="58.51" stroke="#e8101e" stroke-width="0.6" opacity="0.88" stroke-linecap="round"/><line x1="31.36" y1="63.38" x2="25.11" y2="62.77" stroke="#e8101e" stroke-width="0.82" opacity="0.69" stroke-linecap="round"/><line x1="74.38" y1="52.19" x2="79.74" y2="52.18" stroke="#e8101e" stroke-width="0.62" opacity="0.77" stroke-linecap="round"/><line x1="44.48" y1="24.49" x2="39.88" y2="19.33" stroke="#e8101e" stroke-width="0.91" opacity="0.72" stroke-linecap="round"/><line x1="70.42" y1="46.41" x2="75.57" y2="45.09" stroke="#e8101e" stroke-width="0.8" opacity="0.89" stroke-linecap="round"/><line x1="41.13" y1="76.07" x2="36.95" y2="80.33" stroke="#e8101e" stroke-width="0.73" opacity="0.7" stroke-linecap="round"/><line x1="33.23" y1="71.34" x2="29.43" y2="70.95" stroke="#e8101e" stroke-width="1.1" opacity="0.68" stroke-linecap="round"/><line x1="37.47" y1="56.56" x2="30.59" y2="56.31" stroke="#e8101e" stroke-width="0.99" opacity="0.86" stroke-linecap="round"/><line x1="46.22" y1="76.28" x2="45.47" y2="81.36" stroke="#e8101e" stroke-width="0.98" opacity="0.85" stroke-linecap="round"/><line x1="89.38" y1="63.43" x2="92.28" y2="67.45" stroke="#e8101e" stroke-width="0.63" opacity="0.64" stroke-linecap="round"/><line x1="78.33" y1="55.99" x2="81.99" y2="59.74" stroke="#e8101e" stroke-width="0.99" opacity="0.86" stroke-linecap="round"/><line x1="82.05" y1="41.04" x2="87.04" y2="39.19" stroke="#e8101e" stroke-width="1.02" opacity="0.77" stroke-linecap="round"/></g>
<ellipse cx="58.3" cy="56.6" rx="22" ry="21.5" fill="#441a90" filter="url(#b15)"/>
<ellipse cx="58.3" cy="56.6" rx="20" ry="19.5" fill="#c01040" opacity="0.3" filter="url(#b15)"/>
<g filter="url(#b04)"><line x1="48.29" y1="61.66" x2="44.18" y2="59.6" stroke="#f0204a" stroke-width="0.75" opacity="0.64" stroke-linecap="round"/><line x1="61.96" y1="64.34" x2="63.03" y2="70.31" stroke="#f0204a" stroke-width="0.55" opacity="0.5" stroke-linecap="round"/><line x1="72.18" y1="65.54" x2="73.82" y2="67.68" stroke="#f0204a" stroke-width="0.99" opacity="0.83" stroke-linecap="round"/><line x1="51.52" y1="46.29" x2="49.11" y2="45.41" stroke="#f0204a" stroke-width="0.76" opacity="0.38" stroke-linecap="round"/><line x1="57.8" y1="61.17" x2="62.11" y2="62.74" stroke="#f0204a" stroke-width="0.72" opacity="0.77" stroke-linecap="round"/><line x1="46.74" y1="55.64" x2="41.29" y2="54.98" stroke="#f0204a" stroke-width="0.73" opacity="0.49" stroke-linecap="round"/><line x1="77.55" y1="55.08" x2="82.25" y2="58.28" stroke="#f0204a" stroke-width="0.66" opacity="0.46" stroke-linecap="round"/><line x1="59.05" y1="56.89" x2="56.2" y2="60.11" stroke="#f0204a" stroke-width="0.92" opacity="0.54" stroke-linecap="round"/><line x1="75.31" y1="53.72" x2="76.68" y2="50.56" stroke="#f0204a" stroke-width="0.96" opacity="0.58" stroke-linecap="round"/><line x1="65" y1="58" x2="68.35" y2="53.85" stroke="#f0204a" stroke-width="0.89" opacity="0.48" stroke-linecap="round"/><line x1="63.7" y1="57.91" x2="64.8" y2="63.71" stroke="#f0204a" stroke-width="0.56" opacity="0.47" stroke-linecap="round"/><line x1="58.42" y1="56.26" x2="59.71" y2="59.3" stroke="#f0204a" stroke-width="0.78" opacity="0.57" stroke-linecap="round"/><line x1="61.54" y1="70.62" x2="66.19" y2="73.37" stroke="#f0204a" stroke-width="0.56" opacity="0.56" stroke-linecap="round"/><line x1="61.13" y1="60.28" x2="57.61" y2="65.27" stroke="#f0204a" stroke-width="0.65" opacity="0.79" stroke-linecap="round"/><line x1="61.15" y1="62.92" x2="59.09" y2="67.9" stroke="#f0204a" stroke-width="0.55" opacity="0.84" stroke-linecap="round"/><line x1="59.81" y1="60.61" x2="58.79" y2="64.45" stroke="#f0204a" stroke-width="0.65" opacity="0.39" stroke-linecap="round"/><line x1="66.23" y1="63.61" x2="71.41" y2="64.15" stroke="#f0204a" stroke-width="0.69" opacity="0.58" stroke-linecap="round"/><line x1="65.12" y1="54.69" x2="71.47" y2="53.91" stroke="#f0204a" stroke-width="0.59" opacity="0.43" stroke-linecap="round"/><line x1="72.23" y1="48.64" x2="73.96" y2="45.78" stroke="#f0204a" stroke-width="0.87" opacity="0.82" stroke-linecap="round"/><line x1="65.78" y1="74.29" x2="63.98" y2="79.18" stroke="#f0204a" stroke-width="0.71" opacity="0.4" stroke-linecap="round"/><line x1="75.79" y1="62.74" x2="81.32" y2="61.46" stroke="#f0204a" stroke-width="0.63" opacity="0.76" stroke-linecap="round"/><line x1="55.56" y1="53.39" x2="49.82" y2="53.26" stroke="#f0204a" stroke-width="0.53" opacity="0.46" stroke-linecap="round"/><line x1="42.11" y1="51.19" x2="38.96" y2="49.14" stroke="#f0204a" stroke-width="0.96" opacity="0.45" stroke-linecap="round"/><line x1="62.5" y1="57.61" x2="65.28" y2="57.62" stroke="#f0204a" stroke-width="0.59" opacity="0.53" stroke-linecap="round"/><line x1="58.58" y1="56.4" x2="52.21" y2="55.07" stroke="#f0204a" stroke-width="0.99" opacity="0.68" stroke-linecap="round"/><line x1="54.49" y1="45.71" x2="52.23" y2="44.31" stroke="#f0204a" stroke-width="0.51" opacity="0.81" stroke-linecap="round"/><line x1="54.05" y1="37.86" x2="49.11" y2="35.77" stroke="#f0204a" stroke-width="0.74" opacity="0.72" stroke-linecap="round"/><line x1="47.97" y1="74.61" x2="49.58" y2="79.3" stroke="#f0204a" stroke-width="0.87" opacity="0.8" stroke-linecap="round"/><line x1="55.32" y1="44.55" x2="58.17" y2="38.59" stroke="#f0204a" stroke-width="0.68" opacity="0.69" stroke-linecap="round"/><line x1="71.39" y1="47.93" x2="75.73" y2="43.7" stroke="#f0204a" stroke-width="0.93" opacity="0.64" stroke-linecap="round"/><line x1="53.61" y1="53.16" x2="50.49" y2="48.95" stroke="#f0204a" stroke-width="0.54" opacity="0.67" stroke-linecap="round"/><line x1="75.36" y1="55.42" x2="79.32" y2="56.95" stroke="#f0204a" stroke-width="0.87" opacity="0.64" stroke-linecap="round"/><line x1="42.1" y1="61.09" x2="39.56" y2="66.38" stroke="#f0204a" stroke-width="0.51" opacity="0.65" stroke-linecap="round"/><line x1="55.27" y1="58.16" x2="50.67" y2="57.05" stroke="#f0204a" stroke-width="0.81" opacity="0.81" stroke-linecap="round"/><line x1="57.11" y1="54.62" x2="58.87" y2="59.88" stroke="#f0204a" stroke-width="0.6" opacity="0.43" stroke-linecap="round"/><line x1="67.55" y1="50.98" x2="72.54" y2="46.8" stroke="#f0204a" stroke-width="0.66" opacity="0.68" stroke-linecap="round"/><line x1="61.76" y1="62.77" x2="60.27" y2="69.21" stroke="#f0204a" stroke-width="0.94" opacity="0.54" stroke-linecap="round"/><line x1="54.31" y1="53.21" x2="49.62" y2="53.84" stroke="#f0204a" stroke-width="0.92" opacity="0.77" stroke-linecap="round"/><line x1="53.94" y1="38.02" x2="51.98" y2="35.41" stroke="#f0204a" stroke-width="0.73" opacity="0.49" stroke-linecap="round"/><line x1="60.04" y1="63.52" x2="60.04" y2="68.24" stroke="#f0204a" stroke-width="0.66" opacity="0.77" stroke-linecap="round"/><line x1="67.05" y1="56.9" x2="68.73" y2="54.86" stroke="#f0204a" stroke-width="0.94" opacity="0.37" stroke-linecap="round"/><line x1="56.49" y1="47.36" x2="53.05" y2="42.37" stroke="#f0204a" stroke-width="0.51" opacity="0.42" stroke-linecap="round"/><line x1="59.18" y1="57.7" x2="55.78" y2="56.61" stroke="#f0204a" stroke-width="0.57" opacity="0.37" stroke-linecap="round"/><line x1="52.6" y1="52.23" x2="49.87" y2="47.52" stroke="#f0204a" stroke-width="0.9" opacity="0.83" stroke-linecap="round"/><line x1="56.97" y1="54.46" x2="55.52" y2="51.5" stroke="#f0204a" stroke-width="0.51" opacity="0.59" stroke-linecap="round"/><line x1="58.32" y1="54.79" x2="55.92" y2="51.53" stroke="#f0204a" stroke-width="0.85" opacity="0.61" stroke-linecap="round"/><line x1="48.1" y1="47.57" x2="42.86" y2="44.52" stroke="#f0204a" stroke-width="0.95" opacity="0.39" stroke-linecap="round"/><line x1="71.44" y1="52.48" x2="73.54" y2="48.46" stroke="#f0204a" stroke-width="0.81" opacity="0.8" stroke-linecap="round"/><line x1="52.08" y1="65.47" x2="46.02" y2="66.03" stroke="#f0204a" stroke-width="0.97" opacity="0.58" stroke-linecap="round"/><line x1="56.06" y1="56.35" x2="54.7" y2="50.31" stroke="#f0204a" stroke-width="0.82" opacity="0.71" stroke-linecap="round"/><line x1="64.57" y1="73.5" x2="60.48" y2="79.05" stroke="#f0204a" stroke-width="0.77" opacity="0.75" stroke-linecap="round"/><line x1="51.23" y1="74.14" x2="47.63" y2="76.05" stroke="#f0204a" stroke-width="0.54" opacity="0.57" stroke-linecap="round"/><line x1="43.19" y1="52.13" x2="40.68" y2="51.37" stroke="#f0204a" stroke-width="0.9" opacity="0.38" stroke-linecap="round"/><line x1="59.12" y1="56.4" x2="59.22" y2="50.36" stroke="#f0204a" stroke-width="0.57" opacity="0.42" stroke-linecap="round"/><line x1="44.28" y1="57.19" x2="40.05" y2="53.51" stroke="#f0204a" stroke-width="0.97" opacity="0.6" stroke-linecap="round"/><line x1="58.14" y1="58.19" x2="61.46" y2="54.62" stroke="#f0204a" stroke-width="0.65" opacity="0.71" stroke-linecap="round"/><line x1="50.81" y1="50.69" x2="50.41" y2="45.69" stroke="#f0204a" stroke-width="0.66" opacity="0.54" stroke-linecap="round"/><line x1="68.93" y1="43.79" x2="69.39" y2="37.48" stroke="#f0204a" stroke-width="0.98" opacity="0.61" stroke-linecap="round"/><line x1="56.1" y1="56.23" x2="51.97" y2="53.85" stroke="#f0204a" stroke-width="0.8" opacity="0.36" stroke-linecap="round"/><line x1="66.3" y1="55.94" x2="71.99" y2="53.72" stroke="#f0204a" stroke-width="0.78" opacity="0.6" stroke-linecap="round"/><line x1="58.12" y1="57.73" x2="56.83" y2="53.57" stroke="#f0204a" stroke-width="0.98" opacity="0.81" stroke-linecap="round"/><line x1="55.58" y1="65.44" x2="57.91" y2="69.23" stroke="#f0204a" stroke-width="0.91" opacity="0.8" stroke-linecap="round"/><line x1="53.11" y1="56.32" x2="49.08" y2="59.73" stroke="#f0204a" stroke-width="0.96" opacity="0.41" stroke-linecap="round"/><line x1="58.72" y1="58.15" x2="57.46" y2="54.86" stroke="#f0204a" stroke-width="0.84" opacity="0.51" stroke-linecap="round"/><line x1="49.48" y1="64.86" x2="49.76" y2="70.65" stroke="#f0204a" stroke-width="0.56" opacity="0.61" stroke-linecap="round"/><line x1="58.11" y1="59.12" x2="57.86" y2="63.58" stroke="#f0204a" stroke-width="0.69" opacity="0.56" stroke-linecap="round"/><line x1="57.06" y1="55.45" x2="52.04" y2="57.27" stroke="#f0204a" stroke-width="0.82" opacity="0.61" stroke-linecap="round"/><line x1="64.3" y1="46.69" x2="67.69" y2="45.66" stroke="#f0204a" stroke-width="0.87" opacity="0.76" stroke-linecap="round"/><line x1="61.74" y1="55.71" x2="65.64" y2="50.32" stroke="#f0204a" stroke-width="0.61" opacity="0.85" stroke-linecap="round"/><line x1="59.13" y1="57.75" x2="61.35" y2="52.42" stroke="#f0204a" stroke-width="0.63" opacity="0.4" stroke-linecap="round"/><line x1="61.26" y1="49.71" x2="63.9" y2="48.15" stroke="#f0204a" stroke-width="0.7" opacity="0.69" stroke-linecap="round"/><line x1="59.41" y1="56.09" x2="65.38" y2="58.9" stroke="#f0204a" stroke-width="0.98" opacity="0.41" stroke-linecap="round"/><line x1="44.12" y1="56.52" x2="38.54" y2="56.29" stroke="#f0204a" stroke-width="0.59" opacity="0.39" stroke-linecap="round"/><line x1="56.9" y1="55.85" x2="60.39" y2="59.17" stroke="#f0204a" stroke-width="0.78" opacity="0.42" stroke-linecap="round"/><line x1="60.49" y1="57.7" x2="59.1" y2="64.52" stroke="#f0204a" stroke-width="0.96" opacity="0.4" stroke-linecap="round"/><line x1="74.55" y1="64.01" x2="80.19" y2="65.88" stroke="#f0204a" stroke-width="0.66" opacity="0.58" stroke-linecap="round"/><line x1="49.81" y1="56.44" x2="47.35" y2="55.74" stroke="#f0204a" stroke-width="0.85" opacity="0.77" stroke-linecap="round"/><line x1="62.18" y1="63.91" x2="62.18" y2="68.23" stroke="#f0204a" stroke-width="0.6" opacity="0.43" stroke-linecap="round"/><line x1="59.82" y1="59.14" x2="55.51" y2="54.81" stroke="#f0204a" stroke-width="0.85" opacity="0.78" stroke-linecap="round"/><line x1="53.19" y1="52.53" x2="50.58" y2="48.54" stroke="#f0204a" stroke-width="0.99" opacity="0.75" stroke-linecap="round"/><line x1="58.38" y1="74.38" x2="55.54" y2="79.67" stroke="#f0204a" stroke-width="0.91" opacity="0.55" stroke-linecap="round"/><line x1="70.57" y1="46.16" x2="76.25" y2="44.41" stroke="#f0204a" stroke-width="0.88" opacity="0.55" stroke-linecap="round"/><line x1="58.75" y1="57.54" x2="56.72" y2="53.4" stroke="#f0204a" stroke-width="0.51" opacity="0.53" stroke-linecap="round"/><line x1="52.29" y1="47.77" x2="46.04" y2="45.21" stroke="#f0204a" stroke-width="0.83" opacity="0.52" stroke-linecap="round"/><line x1="52.3" y1="48.29" x2="50.24" y2="44.57" stroke="#f0204a" stroke-width="1" opacity="0.67" stroke-linecap="round"/><line x1="52.26" y1="42.13" x2="53.64" y2="39.92" stroke="#f0204a" stroke-width="0.81" opacity="0.72" stroke-linecap="round"/><line x1="56.46" y1="64.61" x2="58.81" y2="67.04" stroke="#f0204a" stroke-width="0.69" opacity="0.4" stroke-linecap="round"/><line x1="58.12" y1="74.54" x2="57.66" y2="79.31" stroke="#f0204a" stroke-width="0.98" opacity="0.63" stroke-linecap="round"/><line x1="70.8" y1="55.85" x2="73.26" y2="57.28" stroke="#f0204a" stroke-width="0.8" opacity="0.73" stroke-linecap="round"/><line x1="75.46" y1="63.47" x2="79.83" y2="61.98" stroke="#f0204a" stroke-width="0.58" opacity="0.6" stroke-linecap="round"/><line x1="57.17" y1="58.36" x2="56.86" y2="53.98" stroke="#f0204a" stroke-width="0.76" opacity="0.65" stroke-linecap="round"/><line x1="55.95" y1="60.35" x2="51.71" y2="63.05" stroke="#f0204a" stroke-width="0.64" opacity="0.71" stroke-linecap="round"/><line x1="57.68" y1="55.97" x2="58.14" y2="58.62" stroke="#f0204a" stroke-width="0.58" opacity="0.73" stroke-linecap="round"/><line x1="44.11" y1="69.26" x2="41.47" y2="69.92" stroke="#f0204a" stroke-width="0.99" opacity="0.82" stroke-linecap="round"/><line x1="73.64" y1="65.11" x2="78.03" y2="66.64" stroke="#f0204a" stroke-width="0.99" opacity="0.47" stroke-linecap="round"/><line x1="39.57" y1="55.18" x2="35.63" y2="52.78" stroke="#f0204a" stroke-width="0.99" opacity="0.76" stroke-linecap="round"/><line x1="57.44" y1="57.21" x2="54.53" y2="53.72" stroke="#f0204a" stroke-width="0.6" opacity="0.38" stroke-linecap="round"/><line x1="58.05" y1="56.72" x2="52.56" y2="56.32" stroke="#f0204a" stroke-width="0.73" opacity="0.48" stroke-linecap="round"/><line x1="51.26" y1="54.52" x2="48.69" y2="50.36" stroke="#f0204a" stroke-width="1" opacity="0.83" stroke-linecap="round"/><line x1="59.81" y1="54.07" x2="55.16" y2="49.5" stroke="#f0204a" stroke-width="0.89" opacity="0.66" stroke-linecap="round"/><line x1="56.36" y1="60.3" x2="52.07" y2="62.94" stroke="#f0204a" stroke-width="0.8" opacity="0.67" stroke-linecap="round"/><line x1="59.53" y1="55.96" x2="56.65" y2="49.69" stroke="#f0204a" stroke-width="0.96" opacity="0.79" stroke-linecap="round"/><line x1="57.12" y1="57.69" x2="61.47" y2="56.97" stroke="#f0204a" stroke-width="0.81" opacity="0.4" stroke-linecap="round"/><line x1="58.91" y1="55.3" x2="54" y2="57.87" stroke="#f0204a" stroke-width="0.78" opacity="0.67" stroke-linecap="round"/><line x1="51.15" y1="62.57" x2="50.13" y2="66.49" stroke="#f0204a" stroke-width="0.87" opacity="0.77" stroke-linecap="round"/><line x1="58.97" y1="55.92" x2="61.73" y2="60.45" stroke="#f0204a" stroke-width="0.88" opacity="0.46" stroke-linecap="round"/><line x1="55.02" y1="59.77" x2="50.88" y2="59.43" stroke="#f0204a" stroke-width="0.83" opacity="0.84" stroke-linecap="round"/><line x1="55.13" y1="65.72" x2="49.86" y2="69.76" stroke="#f0204a" stroke-width="0.71" opacity="0.53" stroke-linecap="round"/><line x1="72.37" y1="68.24" x2="75.21" y2="67.81" stroke="#f0204a" stroke-width="0.78" opacity="0.59" stroke-linecap="round"/><line x1="55.27" y1="52.38" x2="55.53" y2="49.54" stroke="#f0204a" stroke-width="0.61" opacity="0.68" stroke-linecap="round"/><line x1="62.12" y1="58.05" x2="65.53" y2="62.52" stroke="#f0204a" stroke-width="0.64" opacity="0.42" stroke-linecap="round"/><line x1="48.63" y1="68.07" x2="47.35" y2="70.82" stroke="#f0204a" stroke-width="0.85" opacity="0.63" stroke-linecap="round"/><line x1="73.85" y1="46.36" x2="78.21" y2="47.39" stroke="#f0204a" stroke-width="0.9" opacity="0.5" stroke-linecap="round"/><line x1="57.43" y1="63.85" x2="51.33" y2="66.17" stroke="#f0204a" stroke-width="0.62" opacity="0.53" stroke-linecap="round"/><line x1="53.78" y1="61.15" x2="51.61" y2="64.8" stroke="#f0204a" stroke-width="0.6" opacity="0.63" stroke-linecap="round"/><line x1="59.49" y1="47.19" x2="63.44" y2="44.06" stroke="#f0204a" stroke-width="0.59" opacity="0.73" stroke-linecap="round"/><line x1="62.63" y1="55.2" x2="62.45" y2="50.38" stroke="#f0204a" stroke-width="0.77" opacity="0.63" stroke-linecap="round"/><line x1="70.69" y1="53.54" x2="73.32" y2="54.46" stroke="#f0204a" stroke-width="0.77" opacity="0.74" stroke-linecap="round"/><line x1="57.66" y1="55.23" x2="61.44" y2="60.58" stroke="#f0204a" stroke-width="0.54" opacity="0.67" stroke-linecap="round"/><line x1="67.45" y1="68.23" x2="68.85" y2="71.55" stroke="#f0204a" stroke-width="0.61" opacity="0.73" stroke-linecap="round"/><line x1="43.34" y1="54.62" x2="39.32" y2="54.84" stroke="#f0204a" stroke-width="0.98" opacity="0.69" stroke-linecap="round"/><line x1="48.85" y1="58.47" x2="43.52" y2="56.47" stroke="#f0204a" stroke-width="0.96" opacity="0.56" stroke-linecap="round"/><line x1="62.01" y1="45.33" x2="67.51" y2="42.63" stroke="#f0204a" stroke-width="0.92" opacity="0.79" stroke-linecap="round"/><line x1="68.82" y1="53.94" x2="74.37" y2="52.68" stroke="#f0204a" stroke-width="0.9" opacity="0.56" stroke-linecap="round"/><line x1="58.65" y1="58.31" x2="51.7" y2="58.77" stroke="#f0204a" stroke-width="0.69" opacity="0.43" stroke-linecap="round"/><line x1="58.54" y1="63.26" x2="62.75" y2="68.68" stroke="#f0204a" stroke-width="0.53" opacity="0.5" stroke-linecap="round"/><line x1="68.13" y1="64.86" x2="69.28" y2="67.97" stroke="#f0204a" stroke-width="0.53" opacity="0.58" stroke-linecap="round"/><line x1="42.15" y1="46.47" x2="39.3" y2="47.37" stroke="#f0204a" stroke-width="0.59" opacity="0.46" stroke-linecap="round"/><line x1="59.58" y1="70.96" x2="59.31" y2="74.46" stroke="#f0204a" stroke-width="0.59" opacity="0.49" stroke-linecap="round"/><line x1="63.97" y1="70.04" x2="67.62" y2="73.41" stroke="#f0204a" stroke-width="0.91" opacity="0.59" stroke-linecap="round"/><line x1="58.18" y1="75.09" x2="55.25" y2="77.87" stroke="#f0204a" stroke-width="0.77" opacity="0.83" stroke-linecap="round"/><line x1="55.22" y1="54.84" x2="51.12" y2="60.22" stroke="#f0204a" stroke-width="0.9" opacity="0.54" stroke-linecap="round"/><line x1="50.21" y1="54.24" x2="43.44" y2="55.84" stroke="#f0204a" stroke-width="0.83" opacity="0.47" stroke-linecap="round"/><line x1="65.37" y1="58.2" x2="71.38" y2="57.22" stroke="#f0204a" stroke-width="0.86" opacity="0.65" stroke-linecap="round"/><line x1="58.46" y1="58.75" x2="61.34" y2="61.02" stroke="#f0204a" stroke-width="0.93" opacity="0.61" stroke-linecap="round"/><line x1="45.97" y1="41.48" x2="41.54" y2="39.39" stroke="#f0204a" stroke-width="0.58" opacity="0.74" stroke-linecap="round"/><line x1="73.57" y1="55.32" x2="78.57" y2="58.99" stroke="#f0204a" stroke-width="0.54" opacity="0.48" stroke-linecap="round"/><line x1="58.12" y1="57.14" x2="56.99" y2="52.67" stroke="#f0204a" stroke-width="0.98" opacity="0.64" stroke-linecap="round"/><line x1="60.14" y1="52.59" x2="64.21" y2="50.98" stroke="#f0204a" stroke-width="0.96" opacity="0.4" stroke-linecap="round"/><line x1="58.83" y1="55" x2="61.4" y2="50.87" stroke="#f0204a" stroke-width="0.58" opacity="0.77" stroke-linecap="round"/><line x1="54.71" y1="61.53" x2="56.14" y2="65.14" stroke="#f0204a" stroke-width="0.73" opacity="0.71" stroke-linecap="round"/><line x1="48.34" y1="66.53" x2="48.43" y2="70.8" stroke="#f0204a" stroke-width="0.73" opacity="0.83" stroke-linecap="round"/><line x1="65.68" y1="46.33" x2="64.14" y2="42.43" stroke="#f0204a" stroke-width="0.86" opacity="0.47" stroke-linecap="round"/><line x1="51.82" y1="51.45" x2="45.64" y2="54.65" stroke="#f0204a" stroke-width="0.9" opacity="0.45" stroke-linecap="round"/><line x1="55.39" y1="53.94" x2="51.08" y2="51.55" stroke="#f0204a" stroke-width="0.65" opacity="0.52" stroke-linecap="round"/><line x1="47.32" y1="64.67" x2="45.82" y2="67.72" stroke="#f0204a" stroke-width="0.87" opacity="0.51" stroke-linecap="round"/><line x1="67.66" y1="52.69" x2="71.64" y2="52.92" stroke="#f0204a" stroke-width="0.91" opacity="0.4" stroke-linecap="round"/><line x1="58.3" y1="55.95" x2="60.33" y2="61.26" stroke="#f0204a" stroke-width="0.59" opacity="0.55" stroke-linecap="round"/><line x1="65.11" y1="47.58" x2="64.44" y2="44.13" stroke="#f0204a" stroke-width="0.58" opacity="0.41" stroke-linecap="round"/><line x1="58.85" y1="58.26" x2="54.49" y2="57.51" stroke="#f0204a" stroke-width="0.76" opacity="0.67" stroke-linecap="round"/><line x1="60.11" y1="41.02" x2="59.71" y2="37.05" stroke="#f0204a" stroke-width="0.71" opacity="0.36" stroke-linecap="round"/><line x1="48.44" y1="66.73" x2="42.57" y2="65.26" stroke="#f0204a" stroke-width="0.83" opacity="0.65" stroke-linecap="round"/><line x1="62.56" y1="58.3" x2="67.91" y2="57.39" stroke="#f0204a" stroke-width="0.55" opacity="0.54" stroke-linecap="round"/><line x1="42.78" y1="57.56" x2="38.58" y2="54.4" stroke="#f0204a" stroke-width="0.58" opacity="0.73" stroke-linecap="round"/><line x1="66.37" y1="51.92" x2="69.41" y2="48.27" stroke="#f0204a" stroke-width="0.57" opacity="0.71" stroke-linecap="round"/><line x1="66.33" y1="55.12" x2="72.3" y2="57" stroke="#f0204a" stroke-width="0.6" opacity="0.82" stroke-linecap="round"/><line x1="56.76" y1="53.97" x2="53.16" y2="53.79" stroke="#f0204a" stroke-width="0.79" opacity="0.7" stroke-linecap="round"/><line x1="48.81" y1="72.74" x2="47.68" y2="77.18" stroke="#f0204a" stroke-width="0.56" opacity="0.84" stroke-linecap="round"/><line x1="69.6" y1="69.96" x2="72.6" y2="73.98" stroke="#f0204a" stroke-width="0.78" opacity="0.48" stroke-linecap="round"/><line x1="73.78" y1="45.22" x2="78.98" y2="45.23" stroke="#f0204a" stroke-width="0.56" opacity="0.76" stroke-linecap="round"/></g>
<g filter="url(#b08)" opacity="0.55"><circle cx="73" cy="57" r="3" fill="#2a18c8"/><circle cx="50.43" cy="69.89" r="3" fill="#2a18c8"/><circle cx="50.65" cy="53.68" r="3" fill="#2a18c8"/><circle cx="73" cy="44.96" r="3" fill="#2a18c8"/><circle cx="50.21" cy="63.42" r="3" fill="#2a18c8"/><circle cx="50.87" cy="67.38" r="3" fill="#2a18c8"/><circle cx="72.99" cy="47.9" r="3" fill="#2a18c8"/><circle cx="50" cy="48.96" r="3" fill="#2a18c8"/></g>
<circle cx="52.3" cy="14.7" r="6.93" fill="url(#gc)" filter="url(#b08)"/>
<circle cx="38.9" cy="22.2" r="6.46" fill="url(#gc)" filter="url(#b08)"/>
<circle cx="26.9" cy="27.4" r="6.93" fill="url(#gc)" filter="url(#b08)"/>
<circle cx="78.4" cy="24.5" r="6.46" fill="url(#gc)" filter="url(#b08)"/>
<circle cx="92" cy="28.6" r="6.93" fill="url(#gc)" filter="url(#b08)"/>
<circle cx="22.3" cy="41.5" r="7.12" fill="url(#gc)" filter="url(#b08)"/>
<circle cx="95.6" cy="42.6" r="6.46" fill="url(#gc)" filter="url(#b08)"/>
<circle cx="101.1" cy="54" r="6.46" fill="url(#gc)" filter="url(#b08)"/>
<circle cx="17.8" cy="60.8" r="6.93" fill="url(#gc)" filter="url(#b08)"/>
<circle cx="94.9" cy="64.2" r="6.93" fill="url(#gc)" filter="url(#b08)"/>
<circle cx="22.3" cy="73.3" r="6.93" fill="url(#gc)" filter="url(#b08)"/>
<circle cx="93.8" cy="75.6" r="6.46" fill="url(#gc)" filter="url(#b08)"/>
<circle cx="65.4" cy="87.4" r="7.6" fill="url(#gc)" filter="url(#b08)"/>
<circle cx="80.2" cy="87.4" r="6.93" fill="url(#gc)" filter="url(#b08)"/>
<circle cx="94.3" cy="90.3" r="6.93" fill="url(#gc)" filter="url(#b08)"/>
<circle cx="17.8" cy="94.8" r="7.6" fill="url(#gc)" filter="url(#b08)"/>
<circle cx="7.6" cy="77.8" r="7.6" fill="url(#gc3)" filter="url(#b08)"/>
<circle cx="34.4" cy="84.6" r="8.17" fill="url(#gc3)" filter="url(#b08)"/>
<circle cx="52.3" cy="14.7" r="7.23" fill="none" stroke="#e01020" stroke-width="1.3" opacity="0.64" filter="url(#b04)"/>
<circle cx="38.9" cy="22.2" r="6.76" fill="none" stroke="#e01020" stroke-width="1.3" opacity="0.72" filter="url(#b04)"/>
<circle cx="26.9" cy="27.4" r="7.23" fill="none" stroke="#e01020" stroke-width="1.3" opacity="0.72" filter="url(#b04)"/>
<circle cx="78.4" cy="24.5" r="6.76" fill="none" stroke="#e01020" stroke-width="1.3" opacity="0.72" filter="url(#b04)"/>
<circle cx="92" cy="28.6" r="7.23" fill="none" stroke="#e01020" stroke-width="1.3" opacity="0.72" filter="url(#b04)"/>
<circle cx="22.3" cy="41.5" r="7.42" fill="none" stroke="#e01020" stroke-width="1.3" opacity="0.72" filter="url(#b04)"/>
<circle cx="95.6" cy="42.6" r="6.76" fill="none" stroke="#e01020" stroke-width="1.3" opacity="0.72" filter="url(#b04)"/>
<circle cx="101.1" cy="54" r="6.76" fill="none" stroke="#e01020" stroke-width="1.3" opacity="0.72" filter="url(#b04)"/>
<circle cx="17.8" cy="60.8" r="7.23" fill="none" stroke="#e01020" stroke-width="1.3" opacity="0.72" filter="url(#b04)"/>
<circle cx="94.9" cy="64.2" r="7.23" fill="none" stroke="#e01020" stroke-width="1.3" opacity="0.72" filter="url(#b04)"/>
<circle cx="22.3" cy="73.3" r="7.23" fill="none" stroke="#e01020" stroke-width="1.3" opacity="0.72" filter="url(#b04)"/>
<circle cx="93.8" cy="75.6" r="6.76" fill="none" stroke="#e01020" stroke-width="1.3" opacity="0.72" filter="url(#b04)"/>
<circle cx="65.4" cy="87.4" r="7.9" fill="none" stroke="#e01020" stroke-width="1.3" opacity="0.72" filter="url(#b04)"/>
<circle cx="80.2" cy="87.4" r="7.23" fill="none" stroke="#e01020" stroke-width="1.3" opacity="0.72" filter="url(#b04)"/>
<circle cx="94.3" cy="90.3" r="7.23" fill="none" stroke="#e01020" stroke-width="1.3" opacity="0.72" filter="url(#b04)"/>
<circle cx="17.8" cy="94.8" r="7.9" fill="none" stroke="#e01020" stroke-width="1.3" opacity="0.48" filter="url(#b04)"/>
<circle cx="7.6" cy="77.8" r="7.9" fill="none" stroke="#e01020" stroke-width="1.3" opacity="0.72" filter="url(#b04)"/>
<circle cx="34.4" cy="84.6" r="8.47" fill="none" stroke="#e01020" stroke-width="1.3" opacity="0.72" filter="url(#b04)"/>
</g>
<text x="263.1" y="702.8" font-size="13.8" text-anchor="end" fill="#fff">F-actin</text>
</g>
<clipPath id="clipE2"><rect x="273.1" y="689.6" width="115" height="114.3"/></clipPath>
<g clip-path="url(#clipE2)">
<rect x="273.1" y="689.6" width="115" height="114.3" fill="#000"/>
<g transform="translate(273.1 689.6)">
<ellipse cx="62" cy="58" rx="32" ry="34" fill="#1c0006" filter="url(#b3)"/>
<ellipse cx="64.2" cy="59.4" rx="16.8" ry="18.4" fill="url(#gb)" filter="url(#b06)"/>
<ellipse cx="71" cy="63" rx="5" ry="7" fill="#08084a" opacity="0.4" filter="url(#b15)"/>
<circle cx="47.7" cy="29.5" r="6.53" fill="url(#gc2)" filter="url(#b08)"/>
<circle cx="60.6" cy="26.1" r="6.53" fill="url(#gc2)" filter="url(#b08)"/>
<circle cx="72.6" cy="28.4" r="6.53" fill="url(#gc2)" filter="url(#b08)"/>
<circle cx="85.6" cy="27.2" r="6.53" fill="url(#gc2)" filter="url(#b08)"/>
<circle cx="37" cy="37.4" r="7.2" fill="url(#gc2)" filter="url(#b08)"/>
<circle cx="85.6" cy="41.1" r="6.53" fill="url(#gc2)" filter="url(#b08)"/>
<circle cx="30.7" cy="50.6" r="6.53" fill="url(#gc2)" filter="url(#b08)"/>
<circle cx="84" cy="71" r="6.53" fill="url(#gc2)" filter="url(#b08)"/>
<circle cx="37" cy="80.5" r="7.2" fill="url(#gc2)" filter="url(#b08)"/>
<circle cx="49.9" cy="89.6" r="6.53" fill="url(#gc2)" filter="url(#b08)"/>
<circle cx="65.8" cy="87.6" r="6.53" fill="url(#gc2)" filter="url(#b08)"/>
<circle cx="47.7" cy="29.5" r="6.83" fill="none" stroke="#e01020" stroke-width="1" opacity="0.4" filter="url(#b04)"/>
<circle cx="60.6" cy="26.1" r="6.83" fill="none" stroke="#e01020" stroke-width="1" opacity="0.8" filter="url(#b04)"/>
<circle cx="72.6" cy="28.4" r="6.83" fill="none" stroke="#e01020" stroke-width="1" opacity="0.8" filter="url(#b04)"/>
<circle cx="85.6" cy="27.2" r="6.83" fill="none" stroke="#e01020" stroke-width="1" opacity="0.32" filter="url(#b04)"/>
<circle cx="37" cy="37.4" r="7.5" fill="none" stroke="#e01020" stroke-width="1" opacity="0.8" filter="url(#b04)"/>
<circle cx="85.6" cy="41.1" r="6.83" fill="none" stroke="#e01020" stroke-width="1" opacity="0.72" filter="url(#b04)"/>
<circle cx="30.7" cy="50.6" r="6.83" fill="none" stroke="#e01020" stroke-width="1" opacity="0.72" filter="url(#b04)"/>
<circle cx="84" cy="71" r="6.83" fill="none" stroke="#e01020" stroke-width="1" opacity="0.56" filter="url(#b04)"/>
<circle cx="37" cy="80.5" r="7.5" fill="none" stroke="#e01020" stroke-width="1" opacity="0.8" filter="url(#b04)"/>
<circle cx="49.9" cy="89.6" r="6.83" fill="none" stroke="#e01020" stroke-width="1" opacity="0.72" filter="url(#b04)"/>
<circle cx="65.8" cy="87.6" r="6.83" fill="none" stroke="#e01020" stroke-width="1" opacity="0.72" filter="url(#b04)"/>
</g>
<text x="383.6" y="702.8" font-size="13.8" text-anchor="end" fill="#fff">TCR</text>
</g>
<clipPath id="clipE3"><rect x="394.2" y="689.6" width="115" height="114.3"/></clipPath>
<g clip-path="url(#clipE3)">
<rect x="394.2" y="689.6" width="115" height="114.3" fill="#000"/>
<g transform="translate(394.2 689.6)">
<ellipse cx="20" cy="50" rx="14" ry="27" fill="#3a0010" filter="url(#b3)"/>
<ellipse cx="70" cy="95" rx="13" ry="13" fill="#3a0010" filter="url(#b3)"/>
<ellipse cx="58.5" cy="55.5" rx="21.5" ry="26" fill="url(#gb)" filter="url(#b06)"/>
<circle cx="0.8" cy="14.2" r="6.4" fill="url(#gc)" filter="url(#b08)"/>
<circle cx="35.4" cy="23.5" r="8" fill="url(#gc)" filter="url(#b08)"/>
<circle cx="47" cy="15.8" r="7.5" fill="url(#gc)" filter="url(#b08)"/>
<circle cx="60.8" cy="10.4" r="8" fill="url(#gc)" filter="url(#b08)"/>
<circle cx="63.9" cy="19.6" r="7.5" fill="url(#gc)" filter="url(#b08)"/>
<circle cx="81.6" cy="23.4" r="7.5" fill="url(#gc)" filter="url(#b08)"/>
<circle cx="17.7" cy="33.5" r="9" fill="url(#gc)" filter="url(#b08)"/>
<circle cx="22.3" cy="51.2" r="8.6" fill="url(#gc)" filter="url(#b08)"/>
<circle cx="15.4" cy="68.1" r="8" fill="url(#gc)" filter="url(#b08)"/>
<circle cx="93" cy="49.5" r="7.5" fill="url(#gc)" filter="url(#b08)"/>
<circle cx="94.1" cy="61.9" r="6.8" fill="url(#gc)" filter="url(#b08)"/>
<circle cx="86.2" cy="71" r="6.8" fill="url(#gc)" filter="url(#b08)"/>
<circle cx="99.8" cy="72.1" r="6.8" fill="url(#gc)" filter="url(#b08)"/>
<circle cx="79.4" cy="83.5" r="8" fill="url(#gc)" filter="url(#b08)"/>
<circle cx="36.2" cy="85.8" r="6.8" fill="url(#gc)" filter="url(#b08)"/>
<circle cx="53.3" cy="90.3" r="7.3" fill="url(#gc)" filter="url(#b08)"/>
<circle cx="69.1" cy="96" r="8" fill="url(#gc)" filter="url(#b08)"/>
<circle cx="64.6" cy="102.8" r="6.8" fill="url(#gc)" filter="url(#b08)"/>
<circle cx="35.4" cy="23.5" r="8.3" fill="none" stroke="#e01020" stroke-width="1" opacity="0.8" filter="url(#b04)"/>
<circle cx="47" cy="15.8" r="7.8" fill="none" stroke="#e01020" stroke-width="1" opacity="0.8" filter="url(#b04)"/>
<circle cx="60.8" cy="10.4" r="8.3" fill="none" stroke="#e01020" stroke-width="1" opacity="0.4" filter="url(#b04)"/>
<circle cx="63.9" cy="19.6" r="7.8" fill="none" stroke="#e01020" stroke-width="1" opacity="0.8" filter="url(#b04)"/>
<circle cx="81.6" cy="23.4" r="7.8" fill="none" stroke="#e01020" stroke-width="1" opacity="0.56" filter="url(#b04)"/>
<circle cx="17.7" cy="33.5" r="9.3" fill="none" stroke="#e01020" stroke-width="1" opacity="0.72" filter="url(#b04)"/>
<circle cx="22.3" cy="51.2" r="8.9" fill="none" stroke="#e01020" stroke-width="1" opacity="0.56" filter="url(#b04)"/>
<circle cx="15.4" cy="68.1" r="8.3" fill="none" stroke="#e01020" stroke-width="1" opacity="0.8" filter="url(#b04)"/>
<circle cx="93" cy="49.5" r="7.8" fill="none" stroke="#e01020" stroke-width="1" opacity="0.8" filter="url(#b04)"/>
<circle cx="94.1" cy="61.9" r="7.1" fill="none" stroke="#e01020" stroke-width="1" opacity="0.8" filter="url(#b04)"/>
<circle cx="86.2" cy="71" r="7.1" fill="none" stroke="#e01020" stroke-width="1" opacity="0.8" filter="url(#b04)"/>
<circle cx="99.8" cy="72.1" r="7.1" fill="none" stroke="#e01020" stroke-width="1" opacity="0.8" filter="url(#b04)"/>
<circle cx="79.4" cy="83.5" r="8.3" fill="none" stroke="#e01020" stroke-width="1" opacity="0.72" filter="url(#b04)"/>
<circle cx="36.2" cy="85.8" r="7.1" fill="none" stroke="#e01020" stroke-width="1" opacity="0.16" filter="url(#b04)"/>
<circle cx="53.3" cy="90.3" r="7.6" fill="none" stroke="#e01020" stroke-width="1" opacity="0.64" filter="url(#b04)"/>
<circle cx="69.1" cy="96" r="8.3" fill="none" stroke="#e01020" stroke-width="1" opacity="0.72" filter="url(#b04)"/>
<circle cx="64.6" cy="102.8" r="7.1" fill="none" stroke="#e01020" stroke-width="1" opacity="0.72" filter="url(#b04)"/>
</g>
<text x="502.3" y="702.8" font-size="13.8" text-anchor="end" fill="#fff">CD11a</text>
</g>
<clipPath id="clipF0"><rect x="31.1" y="854.3" width="115" height="114.3"/></clipPath>
<g clip-path="url(#clipF0)">
<rect x="31.1" y="854.3" width="115" height="114.3" fill="#000"/>
<g transform="translate(31.1 854.3)">
<ellipse cx="54.5" cy="59" rx="21.5" ry="19.3" fill="url(#gb)" filter="url(#b06)"/>
<ellipse cx="50" cy="56" rx="8" ry="6" fill="#08084a" opacity="0.45" filter="url(#b15)"/>
<ellipse cx="62" cy="62" rx="4" ry="5" fill="#08084a" opacity="0.4" filter="url(#b15)"/>
<circle cx="13.6" cy="4" r="4.59" fill="url(#gc)" filter="url(#b08)"/>
<circle cx="22.7" cy="4" r="3.47" fill="url(#gc)" filter="url(#b08)"/>
<circle cx="50.6" cy="17.7" r="6.94" fill="url(#gc)" filter="url(#b08)"/>
<circle cx="50.6" cy="29.5" r="6.94" fill="url(#gc)" filter="url(#b08)"/>
<circle cx="66.5" cy="26.7" r="7.45" fill="url(#gc)" filter="url(#b08)"/>
<circle cx="81.7" cy="35.1" r="6.94" fill="url(#gc)" filter="url(#b08)"/>
<circle cx="93.8" cy="39" r="6.94" fill="url(#gc)" filter="url(#b08)"/>
<circle cx="90.8" cy="53.3" r="6.94" fill="url(#gc)" filter="url(#b08)"/>
<circle cx="17.1" cy="51" r="6.53" fill="url(#gc)" filter="url(#b08)"/>
<circle cx="27.3" cy="55.6" r="5.81" fill="url(#gc)" filter="url(#b08)"/>
<circle cx="19.8" cy="67.6" r="6.94" fill="url(#gc)" filter="url(#b08)"/>
<circle cx="73.8" cy="83.9" r="6.94" fill="url(#gc)" filter="url(#b08)"/>
<circle cx="57.4" cy="89.6" r="7.65" fill="url(#gc)" filter="url(#b08)"/>
<path d="M55.84 34.64 A7.34 7.34 0 0 1 46.88 35.82" fill="none" stroke="#f01028" stroke-width="1.5" opacity="0.6" filter="url(#b04)"/>
<path d="M68.87 34.18 A7.85 7.85 0 0 1 59.82 30.81" fill="none" stroke="#f01028" stroke-width="1.5" opacity="0.6" filter="url(#b04)"/>
<path d="M80.34 42.31 A7.34 7.34 0 0 1 74.38 35.52" fill="none" stroke="#f01028" stroke-width="1.5" opacity="0.8" filter="url(#b04)"/>
<path d="M85.79 58.66 A7.34 7.34 0 0 1 84.39 49.73" fill="none" stroke="#f01028" stroke-width="1.5" opacity="0.8" filter="url(#b04)"/>
<path d="M32.63 52.41 A6.21 6.21 0 0 1 31.68 60" fill="none" stroke="#f01028" stroke-width="1.5" opacity="0.6" filter="url(#b04)"/>
<path d="M24.32 61.83 A7.34 7.34 0 0 1 26.5 70.59" fill="none" stroke="#f01028" stroke-width="1.5" opacity="0.6" filter="url(#b04)"/>
<path d="M66.69 82.1 A7.34 7.34 0 0 1 73.83 76.56" fill="none" stroke="#f01028" stroke-width="1.5" opacity="0.8" filter="url(#b04)"/>
<path d="M51.87 83.75 A8.05 8.05 0 0 1 61.74 82.82" fill="none" stroke="#f01028" stroke-width="1.5" opacity="0.8" filter="url(#b04)"/>
</g>
<text x="140.3" y="868.7" font-size="13.8" text-anchor="end" fill="#fff">CD2</text>
</g>
<clipPath id="clipF1"><rect x="152.4" y="854.3" width="115" height="114.3"/></clipPath>
<g clip-path="url(#clipF1)">
<rect x="152.4" y="854.3" width="115" height="114.3" fill="#000"/>
<g transform="translate(152.4 854.3)">
<circle cx="79" cy="48.8" r="9.2" fill="#2e0012" filter="url(#b15)"/>
<circle cx="39.3" cy="64.6" r="9.4" fill="#2e0012" filter="url(#b15)"/>
<circle cx="54.1" cy="77.1" r="9.4" fill="#2e0012" filter="url(#b15)"/>
<circle cx="70.7" cy="77.6" r="9.9" fill="#2e0012" filter="url(#b15)"/>
<circle cx="87" cy="74.4" r="9.4" fill="#2e0012" filter="url(#b15)"/>
<circle cx="40.5" cy="88.5" r="9.9" fill="#2e0012" filter="url(#b15)"/>
<ellipse cx="54" cy="47" rx="16" ry="19" fill="#1e0616" filter="url(#b15)"/>
<ellipse cx="54.1" cy="46.5" rx="13.8" ry="17" fill="url(#gb2)" filter="url(#b06)"/>
<circle cx="79" cy="48.8" r="6.73" fill="url(#gc2)" filter="url(#b08)"/>
<circle cx="39.3" cy="64.6" r="6.94" fill="url(#gc2)" filter="url(#b08)"/>
<circle cx="54.1" cy="77.1" r="6.94" fill="url(#gc2)" filter="url(#b08)"/>
<circle cx="70.7" cy="77.6" r="7.45" fill="url(#gc2)" filter="url(#b08)"/>
<circle cx="87" cy="74.4" r="6.94" fill="url(#gc2)" filter="url(#b08)"/>
<circle cx="40.5" cy="88.5" r="7.45" fill="url(#gc2)" filter="url(#b08)"/>
<circle cx="79" cy="48.8" r="7.03" fill="none" stroke="#e01020" stroke-width="1" opacity="0.36" filter="url(#b04)"/>
<circle cx="39.3" cy="64.6" r="7.24" fill="none" stroke="#e01020" stroke-width="1" opacity="0.52" filter="url(#b04)"/>
<circle cx="54.1" cy="77.1" r="7.24" fill="none" stroke="#e01020" stroke-width="1" opacity="0.52" filter="url(#b04)"/>
<circle cx="70.7" cy="77.6" r="7.75" fill="none" stroke="#e01020" stroke-width="1" opacity="0.44" filter="url(#b04)"/>
<circle cx="87" cy="74.4" r="7.24" fill="none" stroke="#e01020" stroke-width="1" opacity="0.52" filter="url(#b04)"/>
<circle cx="40.5" cy="88.5" r="7.75" fill="none" stroke="#e01020" stroke-width="1" opacity="0.48" filter="url(#b04)"/>
</g>
<text x="261.6" y="868.7" font-size="13.8" text-anchor="end" fill="#fff">CD2</text>
</g>
<clipPath id="clipF2"><rect x="273.1" y="854.3" width="115" height="114.3"/></clipPath>
<g clip-path="url(#clipF2)">
<rect x="273.1" y="854.3" width="115" height="114.3" fill="#000"/>
<g transform="translate(273.1 854.3)">
<ellipse cx="50.6" cy="57.8" rx="16.3" ry="18.2" fill="url(#gb)" filter="url(#b06)"/>
<ellipse cx="46" cy="56" rx="5" ry="8" fill="#08084a" opacity="0.45" filter="url(#b15)"/>
<circle cx="38.6" cy="31.3" r="7.45" fill="url(#gc)" filter="url(#b08)"/>
<circle cx="55.2" cy="26.7" r="6.94" fill="url(#gc)" filter="url(#b08)"/>
<circle cx="72" cy="29.9" r="6.53" fill="url(#gc)" filter="url(#b08)"/>
<circle cx="30.7" cy="43.5" r="6.94" fill="url(#gc)" filter="url(#b08)"/>
<circle cx="83.3" cy="40.8" r="7.45" fill="url(#gc)" filter="url(#b08)"/>
<circle cx="91.9" cy="53.3" r="6.94" fill="url(#gc)" filter="url(#b08)"/>
<circle cx="81.7" cy="63.5" r="6.53" fill="url(#gc)" filter="url(#b08)"/>
<circle cx="72" cy="75.3" r="6.53" fill="url(#gc)" filter="url(#b08)"/>
<circle cx="59.7" cy="81.7" r="6.94" fill="url(#gc)" filter="url(#b08)"/>
<circle cx="107.4" cy="101" r="6.94" fill="url(#gc)" filter="url(#b08)"/>
<path d="M58.82 33.08 A7.34 7.34 0 0 1 49.89 31.76" fill="none" stroke="#f01028" stroke-width="1.5" opacity="0.4" filter="url(#b04)"/>
<path d="M72.06 36.83 A6.93 6.93 0 0 1 65.29 31.64" fill="none" stroke="#f01028" stroke-width="1.5" opacity="0.6" filter="url(#b04)"/>
<path d="M38.03 43.21 A7.34 7.34 0 0 1 32.76 50.54" fill="none" stroke="#f01028" stroke-width="1.5" opacity="0.4" filter="url(#b04)"/>
<path d="M80.04 47.94 A7.85 7.85 0 0 1 75.59 39.37" fill="none" stroke="#f01028" stroke-width="1.5" opacity="0.8" filter="url(#b04)"/>
<path d="M75.56 66.71 A6.93 6.93 0 0 1 77.1 58.32" fill="none" stroke="#f01028" stroke-width="1.5" opacity="1" filter="url(#b04)"/>
<path d="M65.07 75.15 A6.93 6.93 0 0 1 70.47 68.54" fill="none" stroke="#f01028" stroke-width="1.5" opacity="1" filter="url(#b04)"/>
<path d="M53.42 77.9 A7.34 7.34 0 0 1 61.86 74.69" fill="none" stroke="#f01028" stroke-width="1.5" opacity="0.8" filter="url(#b04)"/>
</g>
<text x="382.3" y="868.7" font-size="13.8" text-anchor="end" fill="#fff">CD2</text>
</g>
<clipPath id="clipF3"><rect x="394.5" y="854.3" width="115" height="114.3"/></clipPath>
<g clip-path="url(#clipF3)">
<rect x="394.5" y="854.3" width="115" height="114.3" fill="#000"/>
<g transform="translate(394.5 854.3)">
<ellipse cx="57" cy="55.6" rx="18.2" ry="14.3" fill="url(#gb)" filter="url(#b06)"/>
<ellipse cx="50" cy="53" rx="5" ry="4" fill="#08084a" opacity="0.45" filter="url(#b15)"/>
<ellipse cx="64" cy="54" rx="5" ry="4" fill="#08084a" opacity="0.45" filter="url(#b15)"/>
<ellipse cx="57" cy="61" rx="4" ry="3" fill="#08084a" opacity="0.4" filter="url(#b15)"/>
<circle cx="47.3" cy="27.7" r="6.94" fill="url(#gc)" filter="url(#b08)"/>
<circle cx="71.1" cy="28.3" r="6.53" fill="url(#gc)" filter="url(#b08)"/>
<circle cx="35.3" cy="36.3" r="6.94" fill="url(#gc)" filter="url(#b08)"/>
<circle cx="79.1" cy="39.7" r="6.94" fill="url(#gc)" filter="url(#b08)"/>
<circle cx="28" cy="48.8" r="6.94" fill="url(#gc)" filter="url(#b08)"/>
<circle cx="83.6" cy="51" r="6.94" fill="url(#gc)" filter="url(#b08)"/>
<circle cx="96.5" cy="55.6" r="6.53" fill="url(#gc)" filter="url(#b08)"/>
<circle cx="27.5" cy="61.7" r="6.53" fill="url(#gc)" filter="url(#b08)"/>
<circle cx="85.2" cy="63.5" r="6.94" fill="url(#gc)" filter="url(#b08)"/>
<circle cx="34.4" cy="72.1" r="6.94" fill="url(#gc)" filter="url(#b08)"/>
<circle cx="80.6" cy="76" r="6.94" fill="url(#gc)" filter="url(#b08)"/>
<circle cx="54.1" cy="85" r="6.94" fill="url(#gc)" filter="url(#b08)"/>
<circle cx="109.7" cy="3.4" r="6.94" fill="url(#gc)" filter="url(#b08)"/>
<circle cx="96.1" cy="112.3" r="5.81" fill="url(#gc)" filter="url(#b08)"/>
<path d="M72.38 35.11 A6.93 6.93 0 0 1 64.81 31.19" fill="none" stroke="#f01028" stroke-width="1.5" opacity="0.4" filter="url(#b04)"/>
<path d="M42.62 36.77 A7.34 7.34 0 0 1 36.62 43.52" fill="none" stroke="#f01028" stroke-width="1.5" opacity="0.4" filter="url(#b04)"/>
<path d="M77.05 46.74 A7.34 7.34 0 0 1 71.77 39.41" fill="none" stroke="#f01028" stroke-width="1.5" opacity="0.4" filter="url(#b04)"/>
<path d="M34.66 45.72 A7.34 7.34 0 0 1 32.6 54.52" fill="none" stroke="#f01028" stroke-width="1.5" opacity="0.8" filter="url(#b04)"/>
<path d="M78.67 56.44 A7.34 7.34 0 0 1 77.13 47.53" fill="none" stroke="#f01028" stroke-width="1.5" opacity="0.8" filter="url(#b04)"/>
<path d="M31.98 56.42 A6.93 6.93 0 0 1 33.71 64.77" fill="none" stroke="#f01028" stroke-width="1.5" opacity="0.8" filter="url(#b04)"/>
<path d="M78.42 66.29 A7.34 7.34 0 0 1 80.85 57.59" fill="none" stroke="#f01028" stroke-width="1.5" opacity="0.8" filter="url(#b04)"/>
<path d="M36.41 65.04 A7.34 7.34 0 0 1 41.73 72.34" fill="none" stroke="#f01028" stroke-width="1.5" opacity="0.6" filter="url(#b04)"/>
<path d="M73.27 75.64 A7.34 7.34 0 0 1 79.18 68.8" fill="none" stroke="#f01028" stroke-width="1.5" opacity="0.8" filter="url(#b04)"/>
<path d="M50.17 78.8 A7.34 7.34 0 0 1 59.16 79.69" fill="none" stroke="#f01028" stroke-width="1.5" opacity="0.4" filter="url(#b04)"/>
</g>
<text x="503.7" y="868.7" font-size="13.8" text-anchor="end" fill="#fff">CD2</text>
</g>
<g>
<text x="0" y="0" font-size="17" text-anchor="start" font-weight="bold" fill="#000" transform="translate(9.6 25.2) scale(1.14 1)">A</text>
<text x="0" y="0" font-size="17" text-anchor="start" font-weight="bold" fill="#000" transform="translate(10.6 234.8) scale(1.02 1)">B</text>
<text x="0" y="0" font-size="17" text-anchor="start" font-weight="bold" fill="#000" transform="translate(10.3 450.4) scale(1.1 1)">C</text>
<text x="0" y="0" font-size="17" text-anchor="start" font-weight="bold" fill="#000" transform="translate(274 450.6) scale(1.22 1)">D</text>
<text x="0" y="0" font-size="17" text-anchor="start" font-weight="bold" fill="#000" transform="translate(10.6 661.9) scale(1.03 1)">E</text>
<text x="0" y="0" font-size="17" text-anchor="start" font-weight="bold" fill="#000" transform="translate(11 831.9) scale(1.06 1)">F</text>
<line x1="67.2" y1="35" x2="67.2" y2="164.88" stroke="#000" stroke-width="1.35" />
<line x1="62.9" y1="164.2" x2="67.2" y2="164.2" stroke="#000" stroke-width="1.35" />
<text x="58.7" y="167.15" font-size="9.9" text-anchor="end" font-weight="normal" fill="#1e1e1e" stroke="#1e1e1e" stroke-width="0.18">0</text>
<line x1="62.9" y1="139.22" x2="67.2" y2="139.22" stroke="#000" stroke-width="1.35" />
<text x="58.7" y="142.17" font-size="9.9" text-anchor="end" font-weight="normal" fill="#1e1e1e" stroke="#1e1e1e" stroke-width="0.18">20</text>
<line x1="62.9" y1="114.24" x2="67.2" y2="114.24" stroke="#000" stroke-width="1.35" />
<text x="58.7" y="117.19" font-size="9.9" text-anchor="end" font-weight="normal" fill="#1e1e1e" stroke="#1e1e1e" stroke-width="0.18">40</text>
<line x1="62.9" y1="89.26" x2="67.2" y2="89.26" stroke="#000" stroke-width="1.35" />
<text x="58.7" y="92.21" font-size="9.9" text-anchor="end" font-weight="normal" fill="#1e1e1e" stroke="#1e1e1e" stroke-width="0.18">60</text>
<line x1="62.9" y1="64.28" x2="67.2" y2="64.28" stroke="#000" stroke-width="1.35" />
<text x="58.7" y="67.23" font-size="9.9" text-anchor="end" font-weight="normal" fill="#1e1e1e" stroke="#1e1e1e" stroke-width="0.18">80</text>
<line x1="62.9" y1="39.3" x2="67.2" y2="39.3" stroke="#000" stroke-width="1.35" />
<text x="58.7" y="42.25" font-size="9.9" text-anchor="end" font-weight="normal" fill="#1e1e1e" stroke="#1e1e1e" stroke-width="0.18">100</text>
<text x="0" y="0" font-size="13.3" text-anchor="middle" font-weight="normal" fill="#1e1e1e" transform="translate(35.5 101.4) rotate(-90) scale(0.75 1)" stroke="#1e1e1e" stroke-width="0.12">% tumor cells with rosettes</text>
<line x1="63" y1="164.2" x2="325.7" y2="164.2" stroke="#000" stroke-width="1.35" />
<line x1="95.3" y1="164.2" x2="95.3" y2="169" stroke="#000" stroke-width="1.35" />
<text x="0" y="0" font-size="9.3" text-anchor="end" font-weight="normal" fill="#1e1e1e" transform="translate(99.9 177.8) rotate(-45)" stroke="#1e1e1e" stroke-width="0.18">L428</text>
<line x1="129" y1="164.2" x2="129" y2="169" stroke="#000" stroke-width="1.35" />
<text x="0" y="0" font-size="9.3" text-anchor="end" font-weight="normal" fill="#1e1e1e" transform="translate(133.6 177.8) rotate(-45)" stroke="#1e1e1e" stroke-width="0.18">L1236</text>
<line x1="162.7" y1="164.2" x2="162.7" y2="169" stroke="#000" stroke-width="1.35" />
<text x="0" y="0" font-size="9.3" text-anchor="end" font-weight="normal" fill="#1e1e1e" transform="translate(167.3 177.8) rotate(-45)" stroke="#1e1e1e" stroke-width="0.18">L591</text>
<line x1="196.4" y1="164.2" x2="196.4" y2="169" stroke="#000" stroke-width="1.35" />
<text x="0" y="0" font-size="9.3" text-anchor="end" font-weight="normal" fill="#1e1e1e" transform="translate(201 177.8) rotate(-45)" stroke="#1e1e1e" stroke-width="0.18">L540</text>
<line x1="230.1" y1="164.2" x2="230.1" y2="169" stroke="#000" stroke-width="1.35" />
<text x="0" y="0" font-size="9.3" text-anchor="end" font-weight="normal" fill="#1e1e1e" transform="translate(234.7 177.8) rotate(-45)" stroke="#1e1e1e" stroke-width="0.18">HDLM2</text>
<line x1="263.8" y1="164.2" x2="263.8" y2="169" stroke="#000" stroke-width="1.35" />
<text x="0" y="0" font-size="9.3" text-anchor="end" font-weight="normal" fill="#1e1e1e" transform="translate(268.4 177.8) rotate(-45)" stroke="#1e1e1e" stroke-width="0.18">SUPHD1</text>
<line x1="297.5" y1="164.2" x2="297.5" y2="169" stroke="#000" stroke-width="1.35" />
<text x="0" y="0" font-size="9.3" text-anchor="end" font-weight="normal" fill="#1e1e1e" transform="translate(302.1 177.8) rotate(-45)" stroke="#1e1e1e" stroke-width="0.18">KMH2</text>
<line x1="81.2" y1="75.2" x2="109.6" y2="75.2" stroke="#000" stroke-width="1.5" />
<circle cx="88.8" cy="73.1" r="1.9" fill="#a60028"/>
<circle cx="101.7" cy="74" r="1.9" fill="#a60028"/>
<circle cx="95.2" cy="79.4" r="1.9" fill="#a60028"/>
<line x1="114.7" y1="77.9" x2="143.1" y2="77.9" stroke="#000" stroke-width="1.5" />
<circle cx="128.8" cy="70.2" r="1.9" fill="#a60028"/>
<circle cx="128.8" cy="77.9" r="1.9" fill="#a60028"/>
<circle cx="128.8" cy="85.6" r="1.9" fill="#a60028"/>
<line x1="148.5" y1="95.5" x2="176.9" y2="95.5" stroke="#000" stroke-width="1.5" />
<circle cx="162.7" cy="91.7" r="1.9" fill="#a60028"/>
<circle cx="166" cy="94.4" r="1.9" fill="#a60028"/>
<circle cx="159.2" cy="100.6" r="1.9" fill="#a60028"/>
<line x1="182.4" y1="108.7" x2="210.8" y2="108.7" stroke="#000" stroke-width="1.5" />
<circle cx="196.5" cy="99" r="1.9" fill="#a60028"/>
<circle cx="196.5" cy="106.5" r="1.9" fill="#a60028"/>
<circle cx="196.3" cy="119.2" r="1.9" fill="#a60028"/>
<line x1="216.1" y1="102.7" x2="244.5" y2="102.7" stroke="#000" stroke-width="1.5" />
<circle cx="230" cy="97.7" r="1.9" fill="#a60028"/>
<circle cx="233.3" cy="101.9" r="1.9" fill="#a60028"/>
<circle cx="226.9" cy="107.9" r="1.9" fill="#a60028"/>
<line x1="249.8" y1="108" x2="278.2" y2="108" stroke="#000" stroke-width="1.5" />
<circle cx="260.8" cy="96.7" r="1.9" fill="#a60028"/>
<circle cx="267.1" cy="99" r="1.9" fill="#a60028"/>
<circle cx="263.7" cy="127.9" r="1.9" fill="#a60028"/>
<line x1="283.4" y1="102.2" x2="311.8" y2="102.2" stroke="#000" stroke-width="1.5" />
<circle cx="297.5" cy="82.6" r="1.9" fill="#a60028"/>
<circle cx="294.1" cy="104.3" r="1.9" fill="#a60028"/>
<circle cx="301" cy="106.8" r="1.9" fill="#a60028"/>
<circle cx="297.5" cy="115.4" r="1.9" fill="#a60028"/>
<line x1="378.5" y1="36" x2="378.5" y2="165.68" stroke="#000" stroke-width="1.35" />
<line x1="374.2" y1="165" x2="378.5" y2="165" stroke="#000" stroke-width="1.35" />
<text x="370" y="167.95" font-size="9.9" text-anchor="end" font-weight="normal" fill="#1e1e1e" stroke="#1e1e1e" stroke-width="0.18">0</text>
<line x1="374.2" y1="140" x2="378.5" y2="140" stroke="#000" stroke-width="1.35" />
<text x="370" y="142.95" font-size="9.9" text-anchor="end" font-weight="normal" fill="#1e1e1e" stroke="#1e1e1e" stroke-width="0.18">20</text>
<line x1="374.2" y1="115" x2="378.5" y2="115" stroke="#000" stroke-width="1.35" />
<text x="370" y="117.95" font-size="9.9" text-anchor="end" font-weight="normal" fill="#1e1e1e" stroke="#1e1e1e" stroke-width="0.18">40</text>
<line x1="374.2" y1="90" x2="378.5" y2="90" stroke="#000" stroke-width="1.35" />
<text x="370" y="92.95" font-size="9.9" text-anchor="end" font-weight="normal" fill="#1e1e1e" stroke="#1e1e1e" stroke-width="0.18">60</text>
<line x1="374.2" y1="65" x2="378.5" y2="65" stroke="#000" stroke-width="1.35" />
<text x="370" y="67.95" font-size="9.9" text-anchor="end" font-weight="normal" fill="#1e1e1e" stroke="#1e1e1e" stroke-width="0.18">80</text>
<line x1="374.2" y1="40" x2="378.5" y2="40" stroke="#000" stroke-width="1.35" />
<text x="370" y="42.95" font-size="9.9" text-anchor="end" font-weight="normal" fill="#1e1e1e" stroke="#1e1e1e" stroke-width="0.18">100</text>
<text x="0" y="0" font-size="13.3" text-anchor="middle" font-weight="normal" fill="#1e1e1e" transform="translate(346 102.5) rotate(-90) scale(0.75 1)" stroke="#1e1e1e" stroke-width="0.12">% tumor cells with rosettes</text>
<line x1="374.2" y1="165" x2="504.4" y2="165" stroke="#000" stroke-width="1.35" />
<line x1="414" y1="165" x2="414" y2="169.4" stroke="#000" stroke-width="1.35" />
<line x1="468.2" y1="165" x2="468.2" y2="169.4" stroke="#000" stroke-width="1.35" />
<line x1="411.8" y1="179.7" x2="417" y2="179.7" stroke="#222" stroke-width="1.05" />
<line x1="414.4" y1="177.1" x2="414.4" y2="182.3" stroke="#222" stroke-width="1.05" />
<line x1="467.1" y1="180.1" x2="469.5" y2="180.1" stroke="#333" stroke-width="1.1" />
<line x1="408.3" y1="191.6" x2="475.1" y2="191.6" stroke="#000" stroke-width="1.3" />
<line x1="408.95" y1="191.6" x2="408.95" y2="189" stroke="#000" stroke-width="1.3" />
<line x1="474.45" y1="191.6" x2="474.45" y2="189" stroke="#000" stroke-width="1.3" />
<text x="0" y="0" font-size="9.8" text-anchor="middle" font-weight="normal" fill="#1e1e1e" transform="translate(441.7 204.6) scale(0.97 1)" stroke="#1e1e1e" stroke-width="0.18">CD58</text>
<line x1="415.8" y1="55.8" x2="467.9" y2="55.8" stroke="#000" stroke-width="1.3" />
<line x1="415.8" y1="51.5" x2="415.8" y2="60.1" stroke="#000" stroke-width="1.3" />
<line x1="467.9" y1="51.5" x2="467.9" y2="60.1" stroke="#000" stroke-width="1.3" />
<polygon points="437,49.4 437.56,50.53 438.81,50.71 437.9,51.59 438.12,52.84 437,52.25 435.88,52.84 436.1,51.59 435.19,50.71 436.44,50.53" fill="#111"/>
<polygon points="441.2,49.4 441.76,50.53 443.01,50.71 442.1,51.59 442.32,52.84 441.2,52.25 440.08,52.84 440.3,51.59 439.39,50.71 440.64,50.53" fill="#111"/>
<polygon points="445.4,49.4 445.96,50.53 447.21,50.71 446.3,51.59 446.52,52.84 445.4,52.25 444.28,52.84 444.5,51.59 443.59,50.71 444.84,50.53" fill="#111"/>
<line x1="396.6" y1="80.1" x2="431.6" y2="80.1" stroke="#000" stroke-width="1.5" />
<circle cx="409.4" cy="71" r="1.9" fill="#a60028"/>
<circle cx="414.2" cy="75" r="1.9" fill="#a60028"/>
<circle cx="419.2" cy="73.8" r="1.9" fill="#a60028"/>
<circle cx="411.9" cy="78.8" r="1.9" fill="#a60028"/>
<circle cx="416.7" cy="80.2" r="1.9" fill="#a60028"/>
<circle cx="414.2" cy="86.3" r="1.9" fill="#a60028"/>
<circle cx="411.9" cy="92.3" r="1.9" fill="#a60028"/>
<circle cx="416.7" cy="95.2" r="1.9" fill="#a60028"/>
<circle cx="414.2" cy="101.3" r="1.9" fill="#a60028"/>
<line x1="450.2" y1="105.1" x2="485.3" y2="105.1" stroke="#000" stroke-width="1.5" />
<circle cx="468" cy="84" r="1.9" fill="#a60028"/>
<circle cx="460.8" cy="98.6" r="1.9" fill="#a60028"/>
<circle cx="465.7" cy="100" r="1.9" fill="#a60028"/>
<circle cx="468.2" cy="97.4" r="1.9" fill="#a60028"/>
<circle cx="475.1" cy="100" r="1.9" fill="#a60028"/>
<circle cx="470.5" cy="102.5" r="1.9" fill="#a60028"/>
<circle cx="475.1" cy="105.2" r="1.9" fill="#a60028"/>
<circle cx="460.8" cy="107.4" r="1.9" fill="#a60028"/>
<circle cx="465.7" cy="108.6" r="1.9" fill="#a60028"/>
<circle cx="470.5" cy="107.4" r="1.9" fill="#a60028"/>
<circle cx="465.7" cy="116.3" r="1.9" fill="#a60028"/>
<circle cx="470.5" cy="120.2" r="1.9" fill="#a60028"/>
<circle cx="468" cy="128.8" r="1.9" fill="#a60028"/>
<line x1="67.2" y1="251.2" x2="67.2" y2="380.98" stroke="#000" stroke-width="1.35" />
<line x1="62.9" y1="380.3" x2="67.2" y2="380.3" stroke="#000" stroke-width="1.35" />
<text x="58.7" y="383.25" font-size="9.9" text-anchor="end" font-weight="normal" fill="#1e1e1e" stroke="#1e1e1e" stroke-width="0.18">0</text>
<line x1="62.9" y1="355.3" x2="67.2" y2="355.3" stroke="#000" stroke-width="1.35" />
<text x="58.7" y="358.25" font-size="9.9" text-anchor="end" font-weight="normal" fill="#1e1e1e" stroke="#1e1e1e" stroke-width="0.18">10</text>
<line x1="62.9" y1="330.3" x2="67.2" y2="330.3" stroke="#000" stroke-width="1.35" />
<text x="58.7" y="333.25" font-size="9.9" text-anchor="end" font-weight="normal" fill="#1e1e1e" stroke="#1e1e1e" stroke-width="0.18">20</text>
<line x1="62.9" y1="305.3" x2="67.2" y2="305.3" stroke="#000" stroke-width="1.35" />
<text x="58.7" y="308.25" font-size="9.9" text-anchor="end" font-weight="normal" fill="#1e1e1e" stroke="#1e1e1e" stroke-width="0.18">30</text>
<line x1="62.9" y1="280.3" x2="67.2" y2="280.3" stroke="#000" stroke-width="1.35" />
<text x="58.7" y="283.25" font-size="9.9" text-anchor="end" font-weight="normal" fill="#1e1e1e" stroke="#1e1e1e" stroke-width="0.18">40</text>
<line x1="62.9" y1="255.3" x2="67.2" y2="255.3" stroke="#000" stroke-width="1.35" />
<text x="58.7" y="258.25" font-size="9.9" text-anchor="end" font-weight="normal" fill="#1e1e1e" stroke="#1e1e1e" stroke-width="0.18">50</text>
<text x="0" y="0" font-size="11.4" text-anchor="middle" font-weight="normal" fill="#1e1e1e" transform="translate(39.8 318.1) rotate(-90) scale(0.86 1)" stroke="#1e1e1e" stroke-width="0.12">IL-2 (pg/mL)</text>
<line x1="63" y1="380.3" x2="323.8" y2="380.3" stroke="#000" stroke-width="1.35" />
<rect x="69" y="333.05" width="7.8" height="47.25" fill="#a60028"/>
<line x1="72.9" y1="380.3" x2="72.9" y2="384.6" stroke="#000" stroke-width="1.35" />
<rect x="80.7" y="361.8" width="7.8" height="18.5" fill="#a60028"/>
<line x1="84.6" y1="380.3" x2="84.6" y2="384.6" stroke="#000" stroke-width="1.35" />
<rect x="92.4" y="357.05" width="7.8" height="23.25" fill="#a60028"/>
<line x1="96.3" y1="380.3" x2="96.3" y2="384.6" stroke="#000" stroke-width="1.35" />
<rect x="104.1" y="274.3" width="7.8" height="106" fill="#a60028"/>
<line x1="108" y1="380.3" x2="108" y2="384.6" stroke="#000" stroke-width="1.35" />
<rect x="115.8" y="315.8" width="7.8" height="64.5" fill="#a60028"/>
<line x1="119.7" y1="380.3" x2="119.7" y2="384.6" stroke="#000" stroke-width="1.35" />
<rect x="127.5" y="338.8" width="7.8" height="41.5" fill="#a60028"/>
<line x1="131.4" y1="380.3" x2="131.4" y2="384.6" stroke="#000" stroke-width="1.35" />
<rect x="139.2" y="353.3" width="7.8" height="27" fill="#a60028"/>
<line x1="143.1" y1="380.3" x2="143.1" y2="384.6" stroke="#000" stroke-width="1.35" />
<rect x="150.9" y="340.8" width="7.8" height="39.5" fill="#a60028"/>
<line x1="154.8" y1="380.3" x2="154.8" y2="384.6" stroke="#000" stroke-width="1.35" />
<rect x="162.6" y="367.8" width="7.8" height="12.5" fill="#a60028"/>
<line x1="166.5" y1="380.3" x2="166.5" y2="384.6" stroke="#000" stroke-width="1.35" />
<rect x="174.3" y="343.8" width="7.8" height="36.5" fill="#a60028"/>
<line x1="178.2" y1="380.3" x2="178.2" y2="384.6" stroke="#000" stroke-width="1.35" />
<rect x="186" y="377.8" width="7.8" height="2.5" fill="#a60028"/>
<line x1="189.9" y1="380.3" x2="189.9" y2="384.6" stroke="#000" stroke-width="1.35" />
<rect x="197.7" y="370.8" width="7.8" height="9.5" fill="#a60028"/>
<line x1="201.6" y1="380.3" x2="201.6" y2="384.6" stroke="#000" stroke-width="1.35" />
<line x1="213.3" y1="380.3" x2="213.3" y2="384.6" stroke="#000" stroke-width="1.35" />
<rect x="221.1" y="379.05" width="7.8" height="1.25" fill="#a60028"/>
<line x1="225" y1="380.3" x2="225" y2="384.6" stroke="#000" stroke-width="1.35" />
<line x1="236.7" y1="380.3" x2="236.7" y2="384.6" stroke="#000" stroke-width="1.35" />
<rect x="244.5" y="377.05" width="7.8" height="3.25" fill="#a60028"/>
<line x1="248.4" y1="380.3" x2="248.4" y2="384.6" stroke="#000" stroke-width="1.35" />
<rect x="256.2" y="369.8" width="7.8" height="10.5" fill="#a60028"/>
<line x1="260.1" y1="380.3" x2="260.1" y2="384.6" stroke="#000" stroke-width="1.35" />
<rect x="267.9" y="377.8" width="7.8" height="2.5" fill="#a60028"/>
<line x1="271.8" y1="380.3" x2="271.8" y2="384.6" stroke="#000" stroke-width="1.35" />
<rect x="279.6" y="367.8" width="7.8" height="12.5" fill="#a60028"/>
<line x1="283.5" y1="380.3" x2="283.5" y2="384.6" stroke="#000" stroke-width="1.35" />
<line x1="295.2" y1="380.3" x2="295.2" y2="384.6" stroke="#000" stroke-width="1.35" />
<rect x="303" y="373.8" width="7.8" height="6.5" fill="#a60028"/>
<line x1="306.9" y1="380.3" x2="306.9" y2="384.6" stroke="#000" stroke-width="1.35" />
<rect x="314.7" y="377.05" width="7.8" height="3.25" fill="#a60028"/>
<line x1="318.6" y1="380.3" x2="318.6" y2="384.6" stroke="#000" stroke-width="1.35" />
<line x1="102.3" y1="254.45" x2="102.3" y2="380.3" stroke="#000" stroke-width="1.3" stroke-dasharray="1.3 1.8"/>
<line x1="137.3" y1="254.45" x2="137.3" y2="380.3" stroke="#000" stroke-width="1.3" stroke-dasharray="1.3 1.8"/>
<line x1="172.3" y1="254.45" x2="172.3" y2="380.3" stroke="#000" stroke-width="1.3" stroke-dasharray="1.3 1.8"/>
<line x1="207.6" y1="254.45" x2="207.6" y2="380.3" stroke="#000" stroke-width="1.3" stroke-dasharray="1.3 1.8"/>
<line x1="241.9" y1="254.45" x2="241.9" y2="380.3" stroke="#000" stroke-width="1.3" stroke-dasharray="1.3 1.8"/>
<line x1="277.4" y1="254.45" x2="277.4" y2="380.3" stroke="#000" stroke-width="1.3" stroke-dasharray="1.3 1.8"/>
<text x="0" y="0" font-size="9.5" text-anchor="middle" font-weight="normal" fill="#1e1e1e" transform="translate(86.1 244.4) scale(0.97 1)" stroke="#1e1e1e" stroke-width="0.18">L428</text>
<text x="0" y="0" font-size="9.5" text-anchor="middle" font-weight="normal" fill="#1e1e1e" transform="translate(119.8 244.4) scale(0.97 1)" stroke="#1e1e1e" stroke-width="0.18">L1236</text>
<text x="0" y="0" font-size="9.5" text-anchor="middle" font-weight="normal" fill="#1e1e1e" transform="translate(154.3 244.4) scale(0.97 1)" stroke="#1e1e1e" stroke-width="0.18">L591</text>
<text x="0" y="0" font-size="9.5" text-anchor="middle" font-weight="normal" fill="#1e1e1e" transform="translate(189.6 244.4) scale(0.97 1)" stroke="#1e1e1e" stroke-width="0.18">L540</text>
<text x="0" y="0" font-size="9.5" text-anchor="middle" font-weight="normal" fill="#1e1e1e" transform="translate(222.4 244.4) scale(0.97 1)" stroke="#1e1e1e" stroke-width="0.18">HDLM2</text>
<text x="0" y="0" font-size="9.5" text-anchor="middle" font-weight="normal" fill="#1e1e1e" transform="translate(259.8 244.4) scale(0.97 1)" stroke="#1e1e1e" stroke-width="0.18">SUPHD1</text>
<text x="0" y="0" font-size="9.5" text-anchor="middle" font-weight="normal" fill="#1e1e1e" transform="translate(301.6 244.4) scale(0.97 1)" stroke="#1e1e1e" stroke-width="0.18">KMH2</text>
<text x="0" y="0" font-size="11" text-anchor="middle" font-weight="normal" fill="#1e1e1e" transform="translate(196.2 398.2) scale(0.896 1)" stroke="#1e1e1e" stroke-width="0.18">HLA-II matched donors</text>
<line x1="378.5" y1="251.7" x2="378.5" y2="380.98" stroke="#000" stroke-width="1.35" />
<line x1="374.2" y1="380.3" x2="378.5" y2="380.3" stroke="#000" stroke-width="1.35" />
<text x="370" y="383.25" font-size="9.9" text-anchor="end" font-weight="normal" fill="#1e1e1e" stroke="#1e1e1e" stroke-width="0.18">0</text>
<line x1="374.2" y1="355.26" x2="378.5" y2="355.26" stroke="#000" stroke-width="1.35" />
<text x="370" y="358.21" font-size="9.9" text-anchor="end" font-weight="normal" fill="#1e1e1e" stroke="#1e1e1e" stroke-width="0.18">10</text>
<line x1="374.2" y1="330.22" x2="378.5" y2="330.22" stroke="#000" stroke-width="1.35" />
<text x="370" y="333.17" font-size="9.9" text-anchor="end" font-weight="normal" fill="#1e1e1e" stroke="#1e1e1e" stroke-width="0.18">20</text>
<line x1="374.2" y1="305.18" x2="378.5" y2="305.18" stroke="#000" stroke-width="1.35" />
<text x="370" y="308.13" font-size="9.9" text-anchor="end" font-weight="normal" fill="#1e1e1e" stroke="#1e1e1e" stroke-width="0.18">30</text>
<line x1="374.2" y1="280.14" x2="378.5" y2="280.14" stroke="#000" stroke-width="1.35" />
<text x="370" y="283.09" font-size="9.9" text-anchor="end" font-weight="normal" fill="#1e1e1e" stroke="#1e1e1e" stroke-width="0.18">40</text>
<line x1="374.2" y1="255.1" x2="378.5" y2="255.1" stroke="#000" stroke-width="1.35" />
<text x="370" y="258.05" font-size="9.9" text-anchor="end" font-weight="normal" fill="#1e1e1e" stroke="#1e1e1e" stroke-width="0.18">50</text>
<text x="0" y="0" font-size="11.4" text-anchor="middle" font-weight="normal" fill="#1e1e1e" transform="translate(350.4 317.7) rotate(-90) scale(0.86 1)" stroke="#1e1e1e" stroke-width="0.12">IL-2 (pg/mL)</text>
<line x1="374.2" y1="380.3" x2="504.4" y2="380.3" stroke="#000" stroke-width="1.35" />
<line x1="414.2" y1="380.3" x2="414.2" y2="384.4" stroke="#000" stroke-width="1.35" />
<line x1="468" y1="380.3" x2="468" y2="384.4" stroke="#000" stroke-width="1.35" />
<line x1="411.8" y1="394.9" x2="417" y2="394.9" stroke="#222" stroke-width="1.05" />
<line x1="414.4" y1="392.3" x2="414.4" y2="397.5" stroke="#222" stroke-width="1.05" />
<line x1="467" y1="395.5" x2="469.5" y2="395.5" stroke="#333" stroke-width="1.1" />
<line x1="409.6" y1="406.4" x2="474.8" y2="406.4" stroke="#000" stroke-width="1.3" />
<line x1="410.25" y1="406.4" x2="410.25" y2="404" stroke="#000" stroke-width="1.3" />
<line x1="474.15" y1="406.4" x2="474.15" y2="404" stroke="#000" stroke-width="1.3" />
<text x="0" y="0" font-size="9.8" text-anchor="middle" font-weight="normal" fill="#1e1e1e" transform="translate(442.2 420.2) scale(0.97 1)" stroke="#1e1e1e" stroke-width="0.18">CD58</text>
<line x1="414.5" y1="260.1" x2="468" y2="260.1" stroke="#000" stroke-width="1.3" />
<line x1="414.5" y1="256.7" x2="414.5" y2="263.5" stroke="#000" stroke-width="1.3" />
<line x1="468" y1="256.7" x2="468" y2="263.5" stroke="#000" stroke-width="1.3" />
<polygon points="436,253 436.56,254.13 437.81,254.31 436.9,255.19 437.12,256.44 436,255.85 434.88,256.44 435.1,255.19 434.19,254.31 435.44,254.13" fill="#111"/>
<polygon points="440.2,253 440.76,254.13 442.01,254.31 441.1,255.19 441.32,256.44 440.2,255.85 439.08,256.44 439.3,255.19 438.39,254.31 439.64,254.13" fill="#111"/>
<polygon points="444.4,253 444.96,254.13 446.21,254.31 445.3,255.19 445.52,256.44 444.4,255.85 443.28,256.44 443.5,255.19 442.59,254.31 443.84,254.13" fill="#111"/>
<polygon points="448.6,253 449.16,254.13 450.41,254.31 449.5,255.19 449.72,256.44 448.6,255.85 447.48,256.44 447.7,255.19 446.79,254.31 448.04,254.13" fill="#111"/>
<line x1="397.2" y1="340.9" x2="431.7" y2="340.9" stroke="#000" stroke-width="1.5" />
<circle cx="414.2" cy="274.2" r="1.9" fill="#a60028"/>
<circle cx="414.2" cy="315.4" r="1.9" fill="#a60028"/>
<circle cx="414.2" cy="333.2" r="1.9" fill="#a60028"/>
<circle cx="412" cy="338.5" r="1.9" fill="#a60028"/>
<circle cx="416.6" cy="341.2" r="1.9" fill="#a60028"/>
<circle cx="414.2" cy="353.5" r="1.9" fill="#a60028"/>
<circle cx="412" cy="357" r="1.9" fill="#a60028"/>
<circle cx="416.6" cy="361.2" r="1.9" fill="#a60028"/>
<circle cx="414.2" cy="367.4" r="1.9" fill="#a60028"/>
<line x1="450.4" y1="377.1" x2="485.6" y2="377.1" stroke="#000" stroke-width="1.5" />
<circle cx="468" cy="344" r="1.9" fill="#a60028"/>
<circle cx="468" cy="367.5" r="1.9" fill="#a60028"/>
<circle cx="463.3" cy="370.8" r="1.9" fill="#a60028"/>
<circle cx="472.7" cy="369.8" r="1.9" fill="#a60028"/>
<circle cx="467.8" cy="373.6" r="1.9" fill="#a60028"/>
<circle cx="452.3" cy="377.1" r="1.9" fill="#a60028"/>
<circle cx="456.8" cy="377.9" r="1.9" fill="#a60028"/>
<circle cx="461.1" cy="380.4" r="1.9" fill="#a60028"/>
<circle cx="465.5" cy="380.4" r="1.9" fill="#a60028"/>
<circle cx="470.2" cy="380.4" r="1.9" fill="#a60028"/>
<circle cx="474.6" cy="379" r="1.9" fill="#a60028"/>
<circle cx="479.2" cy="377.5" r="1.9" fill="#a60028"/>
<circle cx="483.6" cy="377.1" r="1.9" fill="#a60028"/>
<line x1="67.2" y1="463" x2="67.2" y2="592.17" stroke="#000" stroke-width="1.35" />
<line x1="62.9" y1="591.5" x2="67.2" y2="591.5" stroke="#000" stroke-width="1.35" />
<text x="58.7" y="594.45" font-size="9.9" text-anchor="end" font-weight="normal" fill="#1e1e1e" stroke="#1e1e1e" stroke-width="0.18">0</text>
<line x1="62.9" y1="566.46" x2="67.2" y2="566.46" stroke="#000" stroke-width="1.35" />
<text x="58.7" y="569.41" font-size="9.9" text-anchor="end" font-weight="normal" fill="#1e1e1e" stroke="#1e1e1e" stroke-width="0.18">20</text>
<line x1="62.9" y1="541.42" x2="67.2" y2="541.42" stroke="#000" stroke-width="1.35" />
<text x="58.7" y="544.37" font-size="9.9" text-anchor="end" font-weight="normal" fill="#1e1e1e" stroke="#1e1e1e" stroke-width="0.18">40</text>
<line x1="62.9" y1="516.38" x2="67.2" y2="516.38" stroke="#000" stroke-width="1.35" />
<text x="58.7" y="519.33" font-size="9.9" text-anchor="end" font-weight="normal" fill="#1e1e1e" stroke="#1e1e1e" stroke-width="0.18">60</text>
<line x1="62.9" y1="491.34" x2="67.2" y2="491.34" stroke="#000" stroke-width="1.35" />
<text x="58.7" y="494.29" font-size="9.9" text-anchor="end" font-weight="normal" fill="#1e1e1e" stroke="#1e1e1e" stroke-width="0.18">80</text>
<line x1="62.9" y1="466.3" x2="67.2" y2="466.3" stroke="#000" stroke-width="1.35" />
<text x="58.7" y="469.25" font-size="9.9" text-anchor="end" font-weight="normal" fill="#1e1e1e" stroke="#1e1e1e" stroke-width="0.18">100</text>
<text x="0" y="0" font-size="13.3" text-anchor="middle" font-weight="normal" fill="#1e1e1e" transform="translate(35.7 529) rotate(-90) scale(0.75 1)" stroke="#1e1e1e" stroke-width="0.12">% tumor cells with rosettes</text>
<line x1="62.5" y1="591.5" x2="265.8" y2="591.5" stroke="#000" stroke-width="1.35" />
<line x1="86" y1="591.5" x2="86" y2="595.8" stroke="#000" stroke-width="1.35" />
<text x="0" y="0" font-size="9.9" text-anchor="middle" font-weight="normal" fill="#1e1e1e" transform="translate(86 609.2) scale(0.95 1)" stroke="#1e1e1e" stroke-width="0.18">WT</text>
<line x1="108.87" y1="591.5" x2="108.87" y2="595.8" stroke="#000" stroke-width="1.35" />
<text x="0" y="0" font-size="9.9" text-anchor="middle" font-weight="normal" fill="#1e1e1e" transform="translate(108.87 609.2) scale(0.95 1)" stroke="#1e1e1e" stroke-width="0.18">NT</text>
<line x1="131.74" y1="591.5" x2="131.74" y2="595.8" stroke="#000" stroke-width="1.35" />
<text x="0" y="0" font-size="9.9" text-anchor="middle" font-weight="normal" fill="#1e1e1e" transform="translate(131.74 609.2) scale(0.95 1)" stroke="#1e1e1e" stroke-width="0.18">1</text>
<line x1="154.61" y1="591.5" x2="154.61" y2="595.8" stroke="#000" stroke-width="1.35" />
<text x="0" y="0" font-size="9.9" text-anchor="middle" font-weight="normal" fill="#1e1e1e" transform="translate(154.61 609.2) scale(0.95 1)" stroke="#1e1e1e" stroke-width="0.18">2</text>
<line x1="177.48" y1="591.5" x2="177.48" y2="595.8" stroke="#000" stroke-width="1.35" />
<text x="0" y="0" font-size="9.9" text-anchor="middle" font-weight="normal" fill="#1e1e1e" transform="translate(177.48 609.2) scale(0.95 1)" stroke="#1e1e1e" stroke-width="0.18">1</text>
<line x1="200.35" y1="591.5" x2="200.35" y2="595.8" stroke="#000" stroke-width="1.35" />
<text x="0" y="0" font-size="9.9" text-anchor="middle" font-weight="normal" fill="#1e1e1e" transform="translate(200.35 609.2) scale(0.95 1)" stroke="#1e1e1e" stroke-width="0.18">2</text>
<line x1="223.22" y1="591.5" x2="223.22" y2="595.8" stroke="#000" stroke-width="1.35" />
<text x="0" y="0" font-size="9.9" text-anchor="middle" font-weight="normal" fill="#1e1e1e" transform="translate(223.22 609.2) scale(0.95 1)" stroke="#1e1e1e" stroke-width="0.18">1</text>
<line x1="246.09" y1="591.5" x2="246.09" y2="595.8" stroke="#000" stroke-width="1.35" />
<text x="0" y="0" font-size="9.9" text-anchor="middle" font-weight="normal" fill="#1e1e1e" transform="translate(246.09 609.2) scale(0.95 1)" stroke="#1e1e1e" stroke-width="0.18">2</text>
<line x1="128.1" y1="618.3" x2="159.4" y2="618.3" stroke="#000" stroke-width="1.3" />
<line x1="128.75" y1="618.3" x2="128.75" y2="615.6" stroke="#000" stroke-width="1.3" />
<line x1="158.75" y1="618.3" x2="158.75" y2="615.6" stroke="#000" stroke-width="1.3" />
<text x="0" y="0" font-size="9.8" text-anchor="middle" font-weight="normal" fill="#1e1e1e" transform="translate(143.75 631.3) scale(0.97 1)" stroke="#1e1e1e" stroke-width="0.18">CD58</text>
<line x1="174.2" y1="618.3" x2="204.8" y2="618.3" stroke="#000" stroke-width="1.3" />
<line x1="174.85" y1="618.3" x2="174.85" y2="615.6" stroke="#000" stroke-width="1.3" />
<line x1="204.15" y1="618.3" x2="204.15" y2="615.6" stroke="#000" stroke-width="1.3" />
<text x="0" y="0" font-size="9.8" text-anchor="middle" font-weight="normal" fill="#1e1e1e" transform="translate(189.5 631.3) scale(0.97 1)" stroke="#1e1e1e" stroke-width="0.18">CD54</text>
<line x1="220.3" y1="618.3" x2="251" y2="618.3" stroke="#000" stroke-width="1.3" />
<line x1="220.95" y1="618.3" x2="220.95" y2="615.6" stroke="#000" stroke-width="1.3" />
<line x1="250.35" y1="618.3" x2="250.35" y2="615.6" stroke="#000" stroke-width="1.3" />
<text x="0" y="0" font-size="9.8" text-anchor="middle" font-weight="normal" fill="#1e1e1e" transform="translate(235.65 631.3) scale(0.97 1)" stroke="#1e1e1e" stroke-width="0.18">CIITA</text>
<line x1="86" y1="467.2" x2="153.1" y2="467.2" stroke="#000" stroke-width="1.3" />
<line x1="86" y1="462.4" x2="86" y2="471.6" stroke="#000" stroke-width="1.3" />
<line x1="153.1" y1="462.4" x2="153.1" y2="471.6" stroke="#000" stroke-width="1.3" />
<polygon points="117.35,460.3 117.91,461.43 119.16,461.61 118.25,462.49 118.47,463.74 117.35,463.15 116.23,463.74 116.45,462.49 115.54,461.61 116.79,461.43" fill="#111"/>
<polygon points="121.55,460.3 122.11,461.43 123.36,461.61 122.45,462.49 122.67,463.74 121.55,463.15 120.43,463.74 120.65,462.49 119.74,461.61 120.99,461.43" fill="#111"/>
<line x1="86" y1="480.4" x2="133.5" y2="480.4" stroke="#000" stroke-width="1.3" />
<line x1="86" y1="476" x2="86" y2="485" stroke="#000" stroke-width="1.3" />
<line x1="133.5" y1="476" x2="133.5" y2="485" stroke="#000" stroke-width="1.3" />
<polygon points="107.65,473.7 108.21,474.83 109.46,475.01 108.55,475.89 108.77,477.14 107.65,476.55 106.53,477.14 106.75,475.89 105.84,475.01 107.09,474.83" fill="#111"/>
<polygon points="111.85,473.7 112.41,474.83 113.66,475.01 112.75,475.89 112.97,477.14 111.85,476.55 110.73,477.14 110.95,475.89 110.04,475.01 111.29,474.83" fill="#111"/>
<line x1="76.7" y1="500.8" x2="95.4" y2="500.8" stroke="#000" stroke-width="1.5" />
<circle cx="82.7" cy="496.7" r="1.9" fill="#a60028"/>
<circle cx="89.2" cy="496.5" r="1.9" fill="#a60028"/>
<circle cx="86.2" cy="509.2" r="1.9" fill="#a60028"/>
<line x1="99.4" y1="501.3" x2="118.3" y2="501.3" stroke="#000" stroke-width="1.5" />
<circle cx="105.6" cy="495.4" r="1.9" fill="#a60028"/>
<circle cx="112.1" cy="499.6" r="1.9" fill="#a60028"/>
<circle cx="109" cy="509.4" r="1.9" fill="#a60028"/>
<line x1="122.5" y1="529.6" x2="141.1" y2="529.6" stroke="#000" stroke-width="1.5" />
<circle cx="128.2" cy="525.3" r="1.9" fill="#a60028"/>
<circle cx="134.9" cy="528" r="1.9" fill="#a60028"/>
<circle cx="131.7" cy="535.8" r="1.9" fill="#a60028"/>
<line x1="145.7" y1="528" x2="164.1" y2="528" stroke="#000" stroke-width="1.5" />
<circle cx="151.6" cy="520.4" r="1.9" fill="#a60028"/>
<circle cx="158.1" cy="525.5" r="1.9" fill="#a60028"/>
<circle cx="154.3" cy="538.2" r="1.9" fill="#a60028"/>
<line x1="168.2" y1="505.5" x2="187" y2="505.5" stroke="#000" stroke-width="1.5" />
<circle cx="177.6" cy="493" r="1.9" fill="#a60028"/>
<circle cx="174.2" cy="512.9" r="1.9" fill="#a60028"/>
<circle cx="180.7" cy="510.6" r="1.9" fill="#a60028"/>
<line x1="191.1" y1="503.2" x2="209.9" y2="503.2" stroke="#000" stroke-width="1.5" />
<circle cx="197.2" cy="493" r="1.9" fill="#a60028"/>
<circle cx="203.6" cy="493" r="1.9" fill="#a60028"/>
<circle cx="200.2" cy="524.5" r="1.9" fill="#a60028"/>
<line x1="214" y1="496" x2="232.8" y2="496" stroke="#000" stroke-width="1.5" />
<circle cx="223" cy="478" r="1.9" fill="#a60028"/>
<circle cx="223" cy="498.3" r="1.9" fill="#a60028"/>
<circle cx="223" cy="511.8" r="1.9" fill="#a60028"/>
<line x1="236.8" y1="494.7" x2="255.6" y2="494.7" stroke="#000" stroke-width="1.5" />
<circle cx="242.9" cy="489.2" r="1.9" fill="#a60028"/>
<circle cx="249.3" cy="489.2" r="1.9" fill="#a60028"/>
<circle cx="245.9" cy="507" r="1.9" fill="#a60028"/>
<line x1="325.7" y1="462.5" x2="325.7" y2="592.38" stroke="#000" stroke-width="1.35" />
<line x1="321.4" y1="591.7" x2="325.7" y2="591.7" stroke="#000" stroke-width="1.35" />
<text x="316.3" y="594.65" font-size="9.9" text-anchor="end" font-weight="normal" fill="#1e1e1e" stroke="#1e1e1e" stroke-width="0.18">0</text>
<line x1="321.4" y1="566.7" x2="325.7" y2="566.7" stroke="#000" stroke-width="1.35" />
<text x="316.3" y="569.65" font-size="9.9" text-anchor="end" font-weight="normal" fill="#1e1e1e" stroke="#1e1e1e" stroke-width="0.18">5</text>
<line x1="321.4" y1="541.7" x2="325.7" y2="541.7" stroke="#000" stroke-width="1.35" />
<text x="316.3" y="544.65" font-size="9.9" text-anchor="end" font-weight="normal" fill="#1e1e1e" stroke="#1e1e1e" stroke-width="0.18">10</text>
<line x1="321.4" y1="516.7" x2="325.7" y2="516.7" stroke="#000" stroke-width="1.35" />
<text x="316.3" y="519.65" font-size="9.9" text-anchor="end" font-weight="normal" fill="#1e1e1e" stroke="#1e1e1e" stroke-width="0.18">15</text>
<line x1="321.4" y1="491.7" x2="325.7" y2="491.7" stroke="#000" stroke-width="1.35" />
<text x="316.3" y="494.65" font-size="9.9" text-anchor="end" font-weight="normal" fill="#1e1e1e" stroke="#1e1e1e" stroke-width="0.18">20</text>
<line x1="321.4" y1="466.7" x2="325.7" y2="466.7" stroke="#000" stroke-width="1.35" />
<text x="316.3" y="469.65" font-size="9.9" text-anchor="end" font-weight="normal" fill="#1e1e1e" stroke="#1e1e1e" stroke-width="0.18">25</text>
<text x="0" y="0" font-size="11.4" text-anchor="middle" font-weight="normal" fill="#1e1e1e" transform="translate(297 527.2) rotate(-90) scale(0.86 1)" stroke="#1e1e1e" stroke-width="0.12">IL-2 (pg/mL)</text>
<line x1="321.2" y1="591.7" x2="492.8" y2="591.7" stroke="#000" stroke-width="1.35" />
<line x1="338.8" y1="539.95" x2="338.8" y2="522.95" stroke="#000" stroke-width="1.3" />
<line x1="335.6" y1="522.95" x2="342" y2="522.95" stroke="#000" stroke-width="1.4" />
<rect x="332.2" y="539.95" width="13.2" height="51.75" fill="#a60028"/>
<line x1="338.8" y1="591.7" x2="338.8" y2="596" stroke="#000" stroke-width="1.35" />
<text x="0" y="0" font-size="9.9" text-anchor="middle" font-weight="normal" fill="#1e1e1e" transform="translate(338.8 609.4) scale(0.95 1)" stroke="#1e1e1e" stroke-width="0.18">WT</text>
<line x1="358.8" y1="497.45" x2="358.8" y2="474.45" stroke="#000" stroke-width="1.3" />
<line x1="355.6" y1="474.45" x2="362" y2="474.45" stroke="#000" stroke-width="1.4" />
<rect x="352.2" y="497.45" width="13.2" height="94.25" fill="#a60028"/>
<line x1="358.8" y1="591.7" x2="358.8" y2="596" stroke="#000" stroke-width="1.35" />
<text x="0" y="0" font-size="9.9" text-anchor="middle" font-weight="normal" fill="#1e1e1e" transform="translate(358.8 609.4) scale(0.95 1)" stroke="#1e1e1e" stroke-width="0.18">NT</text>
<polygon points="358.8,467.35 359.37,468.51 360.65,468.7 359.73,469.6 359.95,470.88 358.8,470.28 357.65,470.88 357.87,469.6 356.95,468.7 358.23,468.51" fill="#111"/>
<line x1="378.8" y1="568.7" x2="378.8" y2="562.45" stroke="#000" stroke-width="1.3" />
<line x1="375.6" y1="562.45" x2="382" y2="562.45" stroke="#000" stroke-width="1.4" />
<rect x="372.2" y="568.7" width="13.2" height="23" fill="#a60028"/>
<line x1="378.8" y1="591.7" x2="378.8" y2="596" stroke="#000" stroke-width="1.35" />
<text x="0" y="0" font-size="9.9" text-anchor="middle" font-weight="normal" fill="#1e1e1e" transform="translate(378.8 609.4) scale(0.95 1)" stroke="#1e1e1e" stroke-width="0.18">1</text>
<polygon points="378.8,556.25 379.37,557.41 380.65,557.6 379.73,558.5 379.95,559.78 378.8,559.18 377.65,559.78 377.87,558.5 376.95,557.6 378.23,557.41" fill="#111"/>
<line x1="398.8" y1="572.7" x2="398.8" y2="566.45" stroke="#000" stroke-width="1.3" />
<line x1="395.6" y1="566.45" x2="402" y2="566.45" stroke="#000" stroke-width="1.4" />
<rect x="392.2" y="572.7" width="13.2" height="19" fill="#a60028"/>
<line x1="398.8" y1="591.7" x2="398.8" y2="596" stroke="#000" stroke-width="1.35" />
<text x="0" y="0" font-size="9.9" text-anchor="middle" font-weight="normal" fill="#1e1e1e" transform="translate(398.8 609.4) scale(0.95 1)" stroke="#1e1e1e" stroke-width="0.18">2</text>
<polygon points="398.8,559.45 399.37,560.61 400.65,560.8 399.73,561.7 399.95,562.98 398.8,562.38 397.65,562.98 397.87,561.7 396.95,560.8 398.23,560.61" fill="#111"/>
<line x1="418.8" y1="542.7" x2="418.8" y2="523.95" stroke="#000" stroke-width="1.3" />
<line x1="415.6" y1="523.95" x2="422" y2="523.95" stroke="#000" stroke-width="1.4" />
<rect x="412.2" y="542.7" width="13.2" height="49" fill="#a60028"/>
<line x1="418.8" y1="591.7" x2="418.8" y2="596" stroke="#000" stroke-width="1.35" />
<text x="0" y="0" font-size="9.9" text-anchor="middle" font-weight="normal" fill="#1e1e1e" transform="translate(418.8 609.4) scale(0.95 1)" stroke="#1e1e1e" stroke-width="0.18">1</text>
<line x1="438.8" y1="536.95" x2="438.8" y2="518.95" stroke="#000" stroke-width="1.3" />
<line x1="435.6" y1="518.95" x2="442" y2="518.95" stroke="#000" stroke-width="1.4" />
<rect x="432.2" y="536.95" width="13.2" height="54.75" fill="#a60028"/>
<line x1="438.8" y1="591.7" x2="438.8" y2="596" stroke="#000" stroke-width="1.35" />
<text x="0" y="0" font-size="9.9" text-anchor="middle" font-weight="normal" fill="#1e1e1e" transform="translate(438.8 609.4) scale(0.95 1)" stroke="#1e1e1e" stroke-width="0.18">2</text>
<line x1="458.8" y1="579.45" x2="458.8" y2="574.2" stroke="#000" stroke-width="1.3" />
<line x1="455.6" y1="574.2" x2="462" y2="574.2" stroke="#000" stroke-width="1.4" />
<rect x="452.2" y="579.45" width="13.2" height="12.25" fill="#a60028"/>
<line x1="458.8" y1="591.7" x2="458.8" y2="596" stroke="#000" stroke-width="1.35" />
<text x="0" y="0" font-size="9.9" text-anchor="middle" font-weight="normal" fill="#1e1e1e" transform="translate(458.8 609.4) scale(0.95 1)" stroke="#1e1e1e" stroke-width="0.18">1</text>
<polygon points="458.8,567.05 459.37,568.21 460.65,568.4 459.73,569.3 459.95,570.58 458.8,569.98 457.65,570.58 457.87,569.3 456.95,568.4 458.23,568.21" fill="#111"/>
<line x1="478.8" y1="577.7" x2="478.8" y2="568.2" stroke="#000" stroke-width="1.3" />
<line x1="475.6" y1="568.2" x2="482" y2="568.2" stroke="#000" stroke-width="1.4" />
<rect x="472.2" y="577.7" width="13.2" height="14" fill="#a60028"/>
<line x1="478.8" y1="591.7" x2="478.8" y2="596" stroke="#000" stroke-width="1.35" />
<text x="0" y="0" font-size="9.9" text-anchor="middle" font-weight="normal" fill="#1e1e1e" transform="translate(478.8 609.4) scale(0.95 1)" stroke="#1e1e1e" stroke-width="0.18">2</text>
<polygon points="478.8,561.55 479.37,562.71 480.65,562.9 479.73,563.8 479.95,565.08 478.8,564.48 477.65,565.08 477.87,563.8 476.95,562.9 478.23,562.71" fill="#111"/>
<line x1="374.7" y1="617.5" x2="405.5" y2="617.5" stroke="#000" stroke-width="1.3" />
<line x1="375.35" y1="617.5" x2="375.35" y2="614.8" stroke="#000" stroke-width="1.3" />
<line x1="404.85" y1="617.5" x2="404.85" y2="614.8" stroke="#000" stroke-width="1.3" />
<text x="0" y="0" font-size="9.8" text-anchor="middle" font-weight="normal" fill="#1e1e1e" transform="translate(390.1 631.3) scale(0.97 1)" stroke="#1e1e1e" stroke-width="0.18">CD58</text>
<line x1="414.2" y1="617.5" x2="445.3" y2="617.5" stroke="#000" stroke-width="1.3" />
<line x1="414.85" y1="617.5" x2="414.85" y2="614.8" stroke="#000" stroke-width="1.3" />
<line x1="444.65" y1="617.5" x2="444.65" y2="614.8" stroke="#000" stroke-width="1.3" />
<text x="0" y="0" font-size="9.8" text-anchor="middle" font-weight="normal" fill="#1e1e1e" transform="translate(429.75 631.3) scale(0.97 1)" stroke="#1e1e1e" stroke-width="0.18">CD54</text>
<line x1="453.6" y1="617.5" x2="484.4" y2="617.5" stroke="#000" stroke-width="1.3" />
<line x1="454.25" y1="617.5" x2="454.25" y2="614.8" stroke="#000" stroke-width="1.3" />
<line x1="483.75" y1="617.5" x2="483.75" y2="614.8" stroke="#000" stroke-width="1.3" />
<text x="0" y="0" font-size="9.8" text-anchor="middle" font-weight="normal" fill="#1e1e1e" transform="translate(469 631.3) scale(0.97 1)" stroke="#1e1e1e" stroke-width="0.18">CIITA</text>
<line x1="30.2" y1="683.75" x2="506.9" y2="683.75" stroke="#2a2a2a" stroke-width="1.6" />
<text x="0" y="0" font-size="9.2" text-anchor="middle" font-weight="normal" fill="#1e1e1e" transform="translate(268.3 678.6) scale(1.06 1)" stroke="#1e1e1e" stroke-width="0.18">WT</text>
<text x="0" y="0" font-size="10.3" text-anchor="middle" font-weight="normal" fill="#1e1e1e" transform="translate(88 849.8) scale(0.94 1)" stroke="#1e1e1e" stroke-width="0.18">WT</text>
<text x="0" y="0" font-size="10.3" text-anchor="middle" font-weight="normal" fill="#1e1e1e" transform="translate(206.4 849.8) scale(0.94 1)" stroke="#1e1e1e" stroke-width="0.18">CD58-KO</text>
<text x="0" y="0" font-size="10.3" text-anchor="middle" font-weight="normal" fill="#1e1e1e" transform="translate(329.4 849.8) scale(0.94 1)" stroke="#1e1e1e" stroke-width="0.18">CD54-KO</text>
<text x="0" y="0" font-size="10.3" text-anchor="middle" font-weight="normal" fill="#1e1e1e" transform="translate(446.6 849.8) scale(0.94 1)" stroke="#1e1e1e" stroke-width="0.18">CIITA-KO</text>
</g>
</svg>
<div id="fr"></div><div id="fr2"></div>
</body></html>
